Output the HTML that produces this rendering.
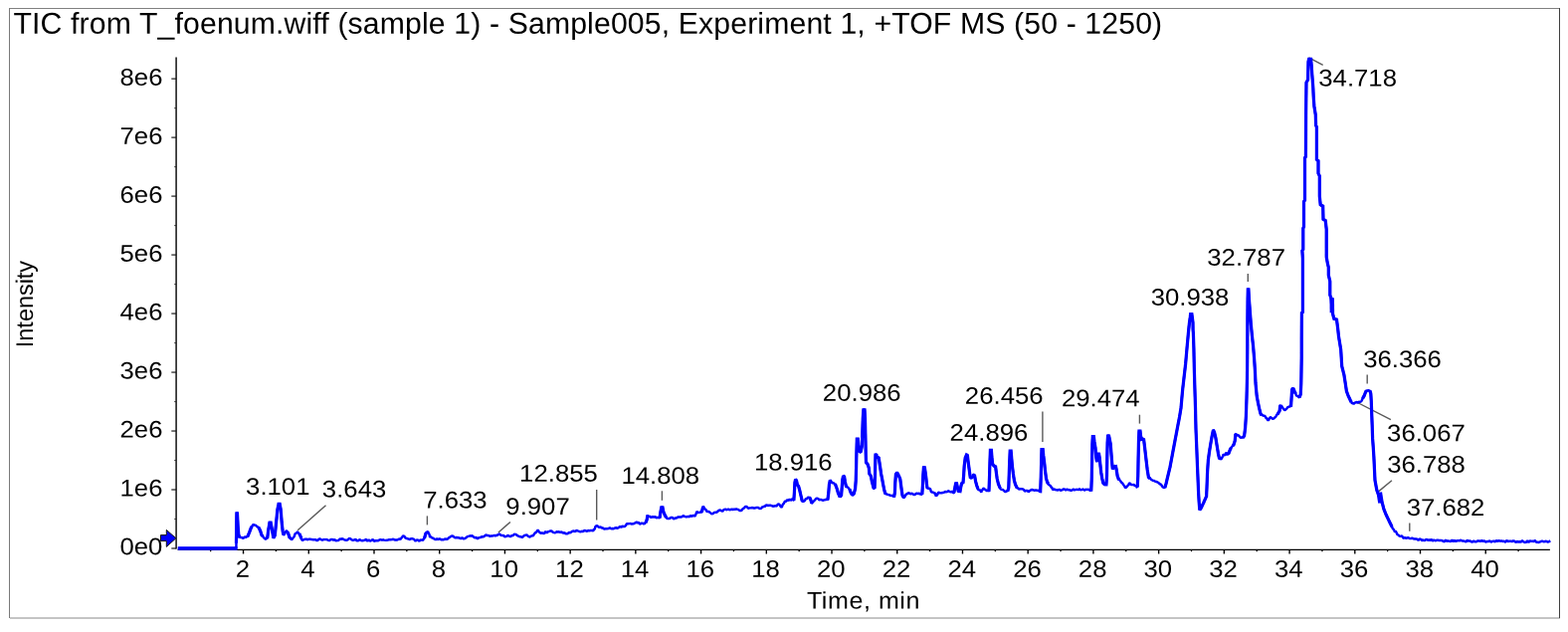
<!DOCTYPE html>
<html lang="en"><head><meta charset="utf-8"><title>TIC from T_foenum.wiff</title>
<style>html,body{margin:0;padding:0;background:#fff;overflow:hidden}svg{display:block}text{font-family:'Liberation Sans', Arial, Helvetica, sans-serif;white-space:pre}</style>
</head><body>
<svg width="1576" height="635" viewBox="0 0 1576 635" role="img" aria-label="Total ion chromatogram">
<rect x="0" y="0" width="1576" height="635" fill="#fff"/>
<g shape-rendering="crispEdges">
<rect x="9" y="8" width="1559" height="1" fill="#808080"/>
<rect x="9" y="8" width="1" height="613" fill="#7a7a7a"/>
<rect x="10" y="620" width="1558" height="2" fill="#c4c4c4"/>
<rect x="1567" y="8" width="1" height="613" fill="#404040"/>
</g>
<text transform="translate(13.47 33.65)" rotate="0.03" font-size="30.2" fill="#000" letter-spacing="0.1341">TIC from T_foenum.wiff (sample 1) - Sample005, Experiment 1, +TOF MS (50 - 1250)</text>
<g stroke="#2c2c2c" fill="none">
<line x1="177.1" y1="57.4" x2="177.1" y2="551.6" stroke-width="1.7"/>
<line x1="178.6" y1="552.4" x2="1557.9" y2="552.4" stroke-width="1.4" stroke="#000"/>
<line x1="172.3" y1="551" x2="177.1" y2="551" stroke-width="1.15" stroke="#111"/>
<line x1="172.3" y1="492.01" x2="177.1" y2="492.01" stroke-width="1.15" stroke="#111"/>
<line x1="172.3" y1="433.03" x2="177.1" y2="433.03" stroke-width="1.15" stroke="#111"/>
<line x1="172.3" y1="374.05" x2="177.1" y2="374.05" stroke-width="1.15" stroke="#111"/>
<line x1="172.3" y1="315.06" x2="177.1" y2="315.06" stroke-width="1.15" stroke="#111"/>
<line x1="172.3" y1="256.07" x2="177.1" y2="256.07" stroke-width="1.15" stroke="#111"/>
<line x1="172.3" y1="197.09" x2="177.1" y2="197.09" stroke-width="1.15" stroke="#111"/>
<line x1="172.3" y1="138.11" x2="177.1" y2="138.11" stroke-width="1.15" stroke="#111"/>
<line x1="172.3" y1="79.12" x2="177.1" y2="79.12" stroke-width="1.15" stroke="#111"/>
<line x1="175.3" y1="521.51" x2="177.1" y2="521.51" stroke-width="1.1"/>
<line x1="175.3" y1="462.52" x2="177.1" y2="462.52" stroke-width="1.1"/>
<line x1="175.3" y1="403.54" x2="177.1" y2="403.54" stroke-width="1.1"/>
<line x1="175.3" y1="344.55" x2="177.1" y2="344.55" stroke-width="1.1"/>
<line x1="175.3" y1="285.57" x2="177.1" y2="285.57" stroke-width="1.1"/>
<line x1="175.3" y1="226.58" x2="177.1" y2="226.58" stroke-width="1.1"/>
<line x1="175.3" y1="167.6" x2="177.1" y2="167.6" stroke-width="1.1"/>
<line x1="175.3" y1="108.61" x2="177.1" y2="108.61" stroke-width="1.1"/>
<line x1="211.69" y1="552.4" x2="211.69" y2="554.2" stroke-width="1.3" stroke="#000"/>
<line x1="244.55" y1="552.4" x2="244.55" y2="556.5" stroke-width="1.4" stroke="#000"/>
<line x1="277.41" y1="552.4" x2="277.41" y2="554.2" stroke-width="1.3" stroke="#000"/>
<line x1="310.27" y1="552.4" x2="310.27" y2="556.5" stroke-width="1.4" stroke="#000"/>
<line x1="343.13" y1="552.4" x2="343.13" y2="554.2" stroke-width="1.3" stroke="#000"/>
<line x1="375.99" y1="552.4" x2="375.99" y2="556.5" stroke-width="1.4" stroke="#000"/>
<line x1="408.85" y1="552.4" x2="408.85" y2="554.2" stroke-width="1.3" stroke="#000"/>
<line x1="441.71" y1="552.4" x2="441.71" y2="556.5" stroke-width="1.4" stroke="#000"/>
<line x1="474.57" y1="552.4" x2="474.57" y2="554.2" stroke-width="1.3" stroke="#000"/>
<line x1="507.43" y1="552.4" x2="507.43" y2="556.5" stroke-width="1.4" stroke="#000"/>
<line x1="540.29" y1="552.4" x2="540.29" y2="554.2" stroke-width="1.3" stroke="#000"/>
<line x1="573.15" y1="552.4" x2="573.15" y2="556.5" stroke-width="1.4" stroke="#000"/>
<line x1="606.01" y1="552.4" x2="606.01" y2="554.2" stroke-width="1.3" stroke="#000"/>
<line x1="638.87" y1="552.4" x2="638.87" y2="556.5" stroke-width="1.4" stroke="#000"/>
<line x1="671.73" y1="552.4" x2="671.73" y2="554.2" stroke-width="1.3" stroke="#000"/>
<line x1="704.59" y1="552.4" x2="704.59" y2="556.5" stroke-width="1.4" stroke="#000"/>
<line x1="737.45" y1="552.4" x2="737.45" y2="554.2" stroke-width="1.3" stroke="#000"/>
<line x1="770.31" y1="552.4" x2="770.31" y2="556.5" stroke-width="1.4" stroke="#000"/>
<line x1="803.17" y1="552.4" x2="803.17" y2="554.2" stroke-width="1.3" stroke="#000"/>
<line x1="836.03" y1="552.4" x2="836.03" y2="556.5" stroke-width="1.4" stroke="#000"/>
<line x1="868.89" y1="552.4" x2="868.89" y2="554.2" stroke-width="1.3" stroke="#000"/>
<line x1="901.75" y1="552.4" x2="901.75" y2="556.5" stroke-width="1.4" stroke="#000"/>
<line x1="934.61" y1="552.4" x2="934.61" y2="554.2" stroke-width="1.3" stroke="#000"/>
<line x1="967.47" y1="552.4" x2="967.47" y2="556.5" stroke-width="1.4" stroke="#000"/>
<line x1="1000.33" y1="552.4" x2="1000.33" y2="554.2" stroke-width="1.3" stroke="#000"/>
<line x1="1033.19" y1="552.4" x2="1033.19" y2="556.5" stroke-width="1.4" stroke="#000"/>
<line x1="1066.05" y1="552.4" x2="1066.05" y2="554.2" stroke-width="1.3" stroke="#000"/>
<line x1="1098.91" y1="552.4" x2="1098.91" y2="556.5" stroke-width="1.4" stroke="#000"/>
<line x1="1131.77" y1="552.4" x2="1131.77" y2="554.2" stroke-width="1.3" stroke="#000"/>
<line x1="1164.63" y1="552.4" x2="1164.63" y2="556.5" stroke-width="1.4" stroke="#000"/>
<line x1="1197.49" y1="552.4" x2="1197.49" y2="554.2" stroke-width="1.3" stroke="#000"/>
<line x1="1230.35" y1="552.4" x2="1230.35" y2="556.5" stroke-width="1.4" stroke="#000"/>
<line x1="1263.21" y1="552.4" x2="1263.21" y2="554.2" stroke-width="1.3" stroke="#000"/>
<line x1="1296.07" y1="552.4" x2="1296.07" y2="556.5" stroke-width="1.4" stroke="#000"/>
<line x1="1328.93" y1="552.4" x2="1328.93" y2="554.2" stroke-width="1.3" stroke="#000"/>
<line x1="1361.79" y1="552.4" x2="1361.79" y2="556.5" stroke-width="1.4" stroke="#000"/>
<line x1="1394.65" y1="552.4" x2="1394.65" y2="554.2" stroke-width="1.3" stroke="#000"/>
<line x1="1427.51" y1="552.4" x2="1427.51" y2="556.5" stroke-width="1.4" stroke="#000"/>
<line x1="1460.37" y1="552.4" x2="1460.37" y2="554.2" stroke-width="1.3" stroke="#000"/>
<line x1="1493.23" y1="552.4" x2="1493.23" y2="556.5" stroke-width="1.4" stroke="#000"/>
<line x1="1526.09" y1="552.4" x2="1526.09" y2="554.2" stroke-width="1.3" stroke="#000"/>
</g>
<text transform="translate(120.41 557.16) scale(1.072 1)" rotate="0.03" font-size="24" fill="#000">0e0</text>
<text transform="translate(120.54 498.57) scale(1.072 1)" rotate="0.03" font-size="24" fill="#000">1e6</text>
<text transform="translate(120.54 439.59) scale(1.072 1)" rotate="0.03" font-size="24" fill="#000">2e6</text>
<text transform="translate(120.54 380.6) scale(1.072 1)" rotate="0.03" font-size="24" fill="#000">3e6</text>
<text transform="translate(120.54 321.62) scale(1.072 1)" rotate="0.03" font-size="24" fill="#000">4e6</text>
<text transform="translate(120.54 262.63) scale(1.072 1)" rotate="0.03" font-size="24" fill="#000">5e6</text>
<text transform="translate(120.54 203.65) scale(1.072 1)" rotate="0.03" font-size="24" fill="#000">6e6</text>
<text transform="translate(120.54 144.66) scale(1.072 1)" rotate="0.03" font-size="24" fill="#000">7e6</text>
<text transform="translate(120.54 85.68) scale(1.072 1)" rotate="0.03" font-size="24" fill="#000">8e6</text>
<text transform="translate(236.65 579.68) scale(1.072 1)" rotate="0.03" font-size="24" fill="#000">2</text>
<text transform="translate(302.37 579.68) scale(1.072 1)" rotate="0.03" font-size="24" fill="#000">4</text>
<text transform="translate(368.09 579.68) scale(1.072 1)" rotate="0.03" font-size="24" fill="#000">6</text>
<text transform="translate(433.81 579.68) scale(1.072 1)" rotate="0.03" font-size="24" fill="#000">8</text>
<text transform="translate(492.37 579.68) scale(1.072 1)" rotate="0.03" font-size="24" fill="#000">10</text>
<text transform="translate(558.09 579.68) scale(1.072 1)" rotate="0.03" font-size="24" fill="#000">12</text>
<text transform="translate(623.81 579.68) scale(1.072 1)" rotate="0.03" font-size="24" fill="#000">14</text>
<text transform="translate(689.53 579.68) scale(1.072 1)" rotate="0.03" font-size="24" fill="#000">16</text>
<text transform="translate(755.25 579.68) scale(1.072 1)" rotate="0.03" font-size="24" fill="#000">18</text>
<text transform="translate(820.97 579.68) scale(1.072 1)" rotate="0.03" font-size="24" fill="#000">20</text>
<text transform="translate(886.69 579.68) scale(1.072 1)" rotate="0.03" font-size="24" fill="#000">22</text>
<text transform="translate(952.41 579.68) scale(1.072 1)" rotate="0.03" font-size="24" fill="#000">24</text>
<text transform="translate(1018.13 579.68) scale(1.072 1)" rotate="0.03" font-size="24" fill="#000">26</text>
<text transform="translate(1083.85 579.68) scale(1.072 1)" rotate="0.03" font-size="24" fill="#000">28</text>
<text transform="translate(1149.57 579.68) scale(1.072 1)" rotate="0.03" font-size="24" fill="#000">30</text>
<text transform="translate(1215.29 579.68) scale(1.072 1)" rotate="0.03" font-size="24" fill="#000">32</text>
<text transform="translate(1281.01 579.68) scale(1.072 1)" rotate="0.03" font-size="24" fill="#000">34</text>
<text transform="translate(1346.73 579.68) scale(1.072 1)" rotate="0.03" font-size="24" fill="#000">36</text>
<text transform="translate(1412.45 579.68) scale(1.072 1)" rotate="0.03" font-size="24" fill="#000">38</text>
<text transform="translate(1478.17 579.68) scale(1.072 1)" rotate="0.03" font-size="24" fill="#000">40</text>
<text transform="translate(810.94 611.6) scale(1.045 1)" rotate="0.03" font-size="24" fill="#000" letter-spacing="0.5139">Time, min</text>
<text transform="translate(32.9 349.17) rotate(-90) scale(0.9757 1)" rotate="0.03" font-size="24">Intensity</text>
<text transform="translate(247.09 497.11) scale(1.072 1)" rotate="0.03" font-size="24" fill="#000">3.101</text>
<text transform="translate(323.87 499.51) scale(1.072 1)" rotate="0.03" font-size="24" fill="#000">3.643</text>
<text transform="translate(425.28 510.61) scale(1.072 1)" rotate="0.03" font-size="24" fill="#000">7.633</text>
<text transform="translate(508.34 516.96) scale(1.072 1)" rotate="0.03" font-size="24" fill="#000">9.907</text>
<text transform="translate(522.12 483.81) scale(1.072 1)" rotate="0.03" font-size="24" fill="#000">12.855</text>
<text transform="translate(624.38 486.01) scale(1.072 1)" rotate="0.03" font-size="24" fill="#000">14.808</text>
<text transform="translate(757.98 472.41) scale(1.072 1)" rotate="0.03" font-size="24" fill="#000">18.916</text>
<text transform="translate(826.87 402.81) scale(1.072 1)" rotate="0.03" font-size="24" fill="#000">20.986</text>
<text transform="translate(954.62 442.66) scale(1.072 1)" rotate="0.03" font-size="24" fill="#000">24.896</text>
<text transform="translate(969.87 405.86) scale(1.072 1)" rotate="0.03" font-size="24" fill="#000">26.456</text>
<text transform="translate(1066.93 408.21) scale(1.072 1)" rotate="0.03" font-size="24" fill="#000">29.474</text>
<text transform="translate(1156.73 306.66) scale(1.072 1)" rotate="0.03" font-size="24" fill="#000">30.938</text>
<text transform="translate(1213.28 266.66) scale(1.072 1)" rotate="0.03" font-size="24" fill="#000">32.787</text>
<text transform="translate(1325.28 86.51) scale(1.072 1)" rotate="0.03" font-size="24" fill="#000">34.718</text>
<text transform="translate(1370.18 368.91) scale(1.072 1)" rotate="0.03" font-size="24" fill="#000">36.366</text>
<text transform="translate(1394.08 443.31) scale(1.072 1)" rotate="0.03" font-size="24" fill="#000">36.067</text>
<text transform="translate(1394.18 474.86) scale(1.072 1)" rotate="0.03" font-size="24" fill="#000">36.788</text>
<text transform="translate(1413.63 518.11) scale(1.072 1)" rotate="0.03" font-size="24" fill="#000">37.682</text>
<g stroke="#5a5a5a" stroke-width="1.4" fill="none">
<line x1="327.5" y1="507.7" x2="299.2" y2="532.8"/>
<line x1="429.4" y1="518.4" x2="429.4" y2="527.4"/>
<line x1="512.9" y1="524.5" x2="500.9" y2="535"/>
<line x1="599.7" y1="491.9" x2="599.7" y2="522.6"/>
<line x1="665.4" y1="493.3" x2="665.4" y2="502.8"/>
<line x1="1047.9" y1="413.4" x2="1047.9" y2="443.9"/>
<line x1="1145.4" y1="416.7" x2="1145.4" y2="425.6"/>
<line x1="1254.3" y1="274.9" x2="1254.3" y2="283.1"/>
<line x1="1315.5" y1="57.8" x2="1329.7" y2="65.4"/>
<line x1="1374.2" y1="376.5" x2="1374.2" y2="385.4"/>
<line x1="1363.5" y1="404" x2="1397.9" y2="421.6"/>
<line x1="1398.9" y1="482.8" x2="1385.8" y2="493.6"/>
<line x1="1416.8" y1="525.4" x2="1416.8" y2="533.8"/>
</g>
<path d="M178.9 551 L180.2 551 L181.5 551 L182.8 551 L184.1 551 L185.4 551 L186.7 551 L188 551 L189.3 551 L190.6 551 L191.9 551 L193.2 551 L194.5 551 L195.8 551 L197.1 551 L198.4 551 L199.7 551 L201 551 L202.3 551 L203.6 551 L204.9 551 L206.2 551 L207.5 551 L208.8 551 L210.1 551 L211.4 551 L212.7 551 L214 551 L215.3 551 L216.6 551 L217.9 551 L219.2 551 L220.5 551 L221.8 551 L223.1 551 L224.4 551 L225.7 551 L227 551 L228.3 551 L229.6 551 L230.9 551 L232.2 551 L233.5 551 L234.8 551 L236.1 551 L237.4 551 L237.42 549.7 L237.44 548.39 L237.46 547.09 L237.47 545.79 L237.49 544.48 L237.51 543.18 L237.53 541.87 L237.55 540.57 L237.57 539.27 L237.59 537.96 L237.6 536.66 L237.62 535.36 L237.64 534.05 L237.66 532.75 L237.68 531.44 L237.7 530.14 L237.71 528.84 L237.73 527.53 L237.75 526.23 L237.77 524.93 L237.79 523.62 L237.81 522.32 L237.83 521.01 L237.84 519.71 L237.86 518.41 L237.88 517.1 L237.9 515.56 L238.5 515.5 L238.57 517.16 L238.63 518.51 L238.7 519.87 L238.77 521.22 L238.83 522.58 L238.9 523.93 L238.97 525.29 L239.03 526.64 L239.1 528 L239.2 529.29 L239.3 530.57 L239.4 531.86 L239.5 533.14 L239.6 534.43 L239.7 535.71 L239.8 537 L240.17 538.1 L240.53 539.11 L240.9 539.65 L241.95 539.95 L243 540.06 L244.5 540.83 L246 539.35 L247 540.05 L248 539.19 L249 539.14 L249.45 538.23 L249.9 536.65 L250.35 535.58 L250.8 534.5 L251.2 533.42 L251.6 532.35 L252 531.28 L252.4 529.28 L253.2 529.42 L254 527.6 L254.8 527.11 L255.9 527.59 L257 527.74 L258.4 529.15 L259.8 529.86 L260.37 530.73 L260.93 531.93 L261.5 533 L261.88 534.12 L262.25 535.25 L262.62 536.38 L263 538.29 L264 538.15 L265 540.26 L265.95 540.65 L266.9 541.99 L267.85 540.98 L268.8 539.34 L268.97 538.67 L269.13 537.33 L269.3 536 L269.47 534.67 L269.63 533.33 L269.8 532 L270.04 530.64 L270.28 529.28 L270.52 527.92 L270.76 526.56 L271 524.66 L272.2 525.91 L272.45 526.65 L272.7 528.1 L272.95 529.55 L273.2 531 L273.44 532.37 L273.69 533.74 L273.93 535.11 L274.17 536.49 L274.41 537.86 L274.66 539.75 L274.9 540.67 L275.6 539.27 L276.3 538 L276.43 536.7 L276.56 535.4 L276.69 534.1 L276.82 532.8 L276.95 531.5 L277.08 530.2 L277.21 528.9 L277.34 527.6 L277.47 526.3 L277.6 525 L277.73 523.7 L277.86 522.4 L277.99 521.1 L278.12 519.8 L278.25 518.5 L278.38 517.2 L278.51 515.9 L278.64 514.6 L278.77 513.3 L278.9 512 L279.17 510.6 L279.45 509.2 L279.73 507.8 L280 507.37 L281.2 506.51 L281.45 507.8 L281.7 509.2 L281.95 510.6 L282.2 512 L282.3 513.3 L282.4 514.6 L282.5 515.9 L282.6 517.2 L282.7 518.5 L282.8 519.8 L282.9 521.1 L283 522.4 L283.1 523.7 L283.2 525 L283.34 526.29 L283.49 527.57 L283.63 528.86 L283.77 530.14 L283.91 531.43 L284.06 532.71 L284.2 534 L284.47 535.13 L284.73 535.75 L285 537.75 L285.75 536.9 L286.5 535.52 L287.3 534.02 L288.1 533.08 L288.85 534.43 L289.6 534.97 L290.07 537.2 L290.53 538.6 L291 540.26 L291.7 540.11 L292.4 541.87 L293.45 542.01 L294.5 540.54 L295.17 539.8 L295.83 538.88 L296.5 536.56 L297.33 535.87 L298.17 535.5 L299 534.09 L300 535.55 L301 536.99 L301.5 537.55 L302 538.73 L302.5 539.69 L303.13 541.78 L303.77 542.73 L304.4 542.73 L305.6 542.17 L306.8 541.71 L308 541.71 L309.33 542.25 L310.67 541.63 L312 541.75 L313.33 542.07 L314.67 542.19 L316 542.29 L317.33 542.1 L318.67 543.33 L320 542.29 L321.36 541.38 L322.73 542.15 L324.09 542.75 L325.45 542 L326.82 542.1 L328.18 542.02 L329.55 542.7 L330.91 543.17 L332.27 542.29 L333.64 541.93 L335 542.6 L336.32 542.15 L337.64 543.29 L338.95 543.11 L340.27 543 L341.59 541.48 L342.91 541.74 L344.23 541.21 L345.55 542.1 L346.86 542.53 L348.18 542.85 L349.5 542.36 L350.81 541.05 L352.12 541.14 L353.44 542.38 L354.75 542.84 L356.06 542.51 L357.38 541.86 L358.69 543.35 L360 543.24 L361.33 542.18 L362.67 542.88 L364 543.28 L365.33 543.05 L366.67 542.54 L368 541.9 L369.33 543.7 L370.67 542.44 L372 543.67 L373.33 542.97 L374.67 541.97 L376 543.76 L377.27 543.26 L378.55 543.17 L379.82 543.32 L381.09 542.67 L382.36 542.18 L383.64 542.67 L384.91 542.31 L386.18 542.61 L387.45 542.87 L388.73 542.84 L390 542.52 L391.33 542.14 L392.67 542.23 L394 541.99 L395.33 541.74 L396.67 542.43 L398 542.38 L399.33 542.54 L400.67 541.71 L402 541.49 L402.8 541.81 L403.6 540.18 L404.3 539.82 L405 538.4 L406.2 538.73 L406.85 539.42 L407.5 540.51 L408.62 540.81 L409.75 541.39 L410.88 541.56 L412 542 L413.4 541.18 L414.8 541.32 L416.2 541.9 L417.6 543.65 L419 542.5 L420.25 542.65 L421.5 543.78 L422.75 542.36 L424 542.59 L425.25 542.69 L426.5 540.3 L426.82 539.76 L427.15 538.75 L427.48 537.62 L427.8 535.72 L428.6 535.06 L429.4 534.26 L430.2 534.38 L431 536.01 L431.6 537.18 L432.2 539.99 L432.9 538.93 L433.6 540.04 L435.07 540.61 L436.53 541.52 L438 542.09 L439.26 541.4 L440.52 542.06 L441.78 541.12 L443.04 542.19 L444.3 542.05 L445.48 542.46 L446.65 541.69 L447.82 541.55 L449 541.69 L450 541.5 L451 540.34 L452 539.82 L453.5 538.76 L455 538.44 L456.33 539.46 L457.67 540.41 L459 539.97 L460.43 540.2 L461.87 540.53 L463.3 541.24 L464.48 540.33 L465.65 541.18 L466.82 541.21 L468 540.63 L469.25 539.5 L470.5 538.94 L471.5 538.63 L472.5 538.3 L473.5 538.59 L474.5 538.29 L475.75 539.31 L477 540.16 L478.5 540.03 L480 541.27 L481.33 540.15 L482.67 540.14 L484 539.31 L485.25 539.47 L486.5 538.99 L488.4 537.47 L489.7 538.1 L491 537.86 L492.17 538.87 L493.33 538.48 L494.5 538.58 L495.67 538.41 L496.83 537.88 L498 538.41 L499 537.82 L500 537.77 L501.4 536.57 L502.45 536.73 L503.5 537.81 L504.75 538 L506 537.98 L507.5 539.29 L509 538.92 L510.33 537.89 L511.67 538.6 L513 539.08 L514.27 538.32 L515.55 538.04 L516.83 536.77 L518.1 536.85 L519.55 537.68 L521 538.69 L522.3 539.23 L523.6 539.25 L524.8 540.03 L526 538.82 L527.2 538 L528.4 537.63 L529.45 537.38 L530.5 538.39 L532.2 539.63 L533.6 538.67 L535 538.33 L536 538.2 L537 536.44 L538 535.17 L538.87 534.96 L539.73 533.86 L540.6 532.48 L542 534.63 L542.8 535.05 L543.6 535.88 L544.73 535.33 L545.87 535.74 L547 535.96 L548.33 534.08 L549.67 535.52 L551 534.14 L552.1 533.86 L553.2 533.5 L554.3 533.36 L555.53 534.6 L556.77 535.06 L558 535.4 L559.25 534.32 L560.5 534.47 L561.75 534.24 L563 534.86 L564.42 534.46 L565.85 535.69 L567.28 535.2 L568.7 536.29 L569.8 536.4 L570.9 535.81 L572 534.93 L573.2 535.38 L574.4 534.28 L575.6 533.68 L576.88 533.5 L578.16 534.14 L579.44 532.94 L580.72 533.46 L582 533.92 L583.33 534.41 L584.67 533.76 L586 534.09 L587.33 533.02 L588.67 533.23 L590 533.96 L591.24 532.8 L592.48 533.43 L593.72 532.85 L594.96 533.05 L596.2 533.29 L597 532.01 L597.8 531.43 L598.3 529.36 L598.8 528.63 L600.2 528.1 L602 530 L603 529.55 L604 529.66 L605 530.66 L606 530.48 L607.33 531.57 L608.67 531.24 L610 531.32 L611.47 531.09 L612.93 530.29 L614.4 531.39 L615.6 530.96 L616.8 531.19 L618 530.42 L619.33 530.23 L620.67 530.83 L622 529.92 L623.15 528.87 L624.3 529.79 L625.45 528.58 L626.6 529 L627.73 529.04 L628.87 528.05 L630 526.1 L631.35 526.28 L632.7 526.11 L633.65 526.04 L634.6 526.44 L636.5 526.34 L637.5 525.84 L638.5 525.46 L639.75 524.57 L641 525.34 L642 524.94 L643 526.66 L644 526.11 L645 525.66 L646 525.77 L647 526.36 L648 526.09 L649 524.47 L649.4 525 L649.8 523.1 L650.2 522 L650.5 520.4 L650.8 518.47 L651.9 519.02 L653 518.83 L654.5 519.9 L656 519.22 L657.25 519.64 L658.5 518.99 L659.75 520.42 L661 519.79 L662.1 520.22 L663.2 519.87 L663.4 518.05 L663.6 516.7 L663.8 515.35 L664 514 L664.27 512.6 L664.53 511.2 L664.8 509.33 L666 510.12 L666.27 511.2 L666.53 512.6 L666.8 514 L667.4 515.5 L668 517 L668.5 518 L669 518.78 L669.5 519.29 L670.3 521.11 L671.1 520.87 L673 521.08 L674.35 520.08 L675.7 519.97 L677.13 521.39 L678.57 520.58 L680 520.54 L681.33 519.52 L682.67 519.41 L684 519.52 L685.35 519.28 L686.7 518.2 L688.05 518.9 L689.4 519.19 L690.55 519.2 L691.7 518.93 L692.85 519.26 L694 517.93 L695.5 518.86 L697 517.78 L698.5 518.83 L699.05 517.47 L699.6 516.33 L700.4 513.74 L701.7 515.13 L703 514.88 L704.2 514.29 L705.4 515.04 L705.67 513.35 L705.93 512.1 L706.2 511 L706.55 509.84 L706.9 508.52 L708 510.95 L708.6 511.62 L709.2 511.73 L710.6 514.17 L712 513.83 L713.1 514.46 L714.2 515.37 L715.3 516.22 L716.65 516.05 L718 514.88 L719.13 514.67 L720.27 514.89 L721.4 513.82 L722.7 512.79 L724 512.58 L725.17 513.27 L726.33 513.66 L727.5 512.11 L729 511.68 L730.5 512.23 L732 511.49 L733.15 512.17 L734.3 512.14 L735.45 511.48 L736.6 512.11 L737.73 511.71 L738.87 511.79 L740 511.37 L741 511.71 L742 511.88 L743.2 512.94 L744.4 513.01 L745.2 513.16 L746 511.98 L746.8 510.92 L747.6 510.75 L749.07 509.07 L750.53 509.06 L752 510.71 L753.5 510.37 L755 510.22 L756.33 510.06 L757.67 510.51 L759 510.48 L760.5 509.85 L762 509.94 L763.55 511.02 L765.1 510.89 L766.05 509.57 L767 509.38 L767.95 508.69 L768.9 508.89 L770.27 507.2 L771.63 508.1 L773 507.71 L774.27 507.61 L775.55 508.1 L776.83 508.69 L778.1 508.55 L779.3 507.99 L780.5 508.6 L781.6 506.89 L782.7 506.39 L783.55 507.13 L784.4 508.62 L785.7 509.87 L786.35 508.06 L787 506.38 L787.85 505.99 L788.7 503.83 L790.1 503.7 L791.5 502.19 L792.6 502.9 L793.7 501.54 L794.8 502.78 L796.5 501.28 L797.9 502.79 L798 500.44 L798.1 499.08 L798.2 497.72 L798.3 496.36 L798.4 495 L798.46 493.75 L798.52 492.5 L798.59 491.25 L798.65 490 L798.71 488.75 L798.77 487.5 L798.84 486.25 L798.9 485 L799.13 483.83 L799.37 482.35 L799.6 482.08 L800.5 483.34 L800.8 484.07 L801.1 485.53 L801.4 487 L802.6 488.5 L802.93 489.67 L803.27 490.83 L803.6 492 L803.88 493.2 L804.16 494.4 L804.44 495.6 L804.72 496.8 L805 498 L805.33 499.35 L805.65 500.7 L805.97 502.47 L806.3 503.86 L807.5 503.84 L808.8 503.03 L809.9 501.17 L811 501.12 L812.25 499.57 L813.5 499.88 L814.15 500.19 L814.8 502 L815.13 503.2 L815.47 504.73 L815.8 505.99 L816.65 504.84 L817.5 503.86 L818.33 503.12 L819.17 502.24 L820 501.16 L821.17 500.69 L822.33 501.15 L823.5 502.25 L824.87 501.84 L826.23 502.46 L827.6 502.7 L828.8 502.2 L830 502.08 L831 501.61 L832 501.59 L832.16 500.12 L832.32 498.84 L832.48 497.56 L832.64 496.28 L832.8 495 L832.9 493.67 L833 492.33 L833.1 491 L833.2 489.67 L833.3 488.33 L833.4 487 L833.65 485.82 L833.9 484.65 L834.15 483.16 L834.4 482.21 L835.45 483.75 L836.5 485.4 L837.4 485.32 L838.3 485.48 L839.05 486.82 L839.8 487.62 L840.27 488.47 L840.73 489.73 L841.2 491 L841.55 492.25 L841.9 493.5 L842.25 494.75 L842.6 496 L843.17 497.13 L843.73 499.22 L844.3 498.64 L844.95 498.87 L845.6 497.5 L845.7 496.25 L845.8 495 L845.9 493.75 L846 492.5 L846.1 491.25 L846.2 490 L846.3 488.67 L846.4 487.33 L846.5 486 L846.6 484.67 L846.7 483.33 L846.8 482 L847.07 480.67 L847.33 479.83 L847.6 478.41 L848.6 479.09 L848.8 480.1 L849 481.4 L849.2 482.7 L849.4 484 L849.65 485.15 L849.9 486.3 L850.15 487.45 L850.4 487.78 L851.2 489.37 L852 489.52 L852.9 490.45 L853.8 491.48 L854.27 492.01 L854.73 493.73 L855.2 495 L855.9 495.57 L856.6 497.3 L857.5 497.19 L858.4 495.87 L858.7 494.45 L859 493.3 L859.3 492.15 L859.6 491 L859.7 489.67 L859.8 488.33 L859.9 487 L860 485.67 L860.1 484.33 L860.2 483 L860.24 481.7 L860.28 480.4 L860.32 479.1 L860.36 477.8 L860.4 476.5 L860.44 475.2 L860.48 473.9 L860.52 472.6 L860.56 471.3 L860.6 470 L860.63 468.64 L860.65 467.27 L860.68 465.91 L860.71 464.55 L860.74 463.18 L860.76 461.82 L860.79 460.45 L860.82 459.09 L860.85 457.73 L860.87 456.36 L860.9 455 L860.94 453.75 L860.97 452.49 L861.01 451.24 L861.05 449.98 L861.08 448.73 L861.12 447.47 L861.15 446.22 L861.19 444.96 L861.23 443.71 L861.26 442.45 L861.3 440.89 L862.4 441.13 L862.52 442.65 L862.65 444.1 L862.77 445.55 L862.9 447 L863.04 448.24 L863.18 449.48 L863.32 450.72 L863.46 451.96 L863.6 453.69 L865.2 454.71 L865.44 452.99 L865.68 451.6 L865.92 450.4 L866.16 449.2 L866.4 448 L866.44 446.7 L866.48 445.4 L866.52 444.1 L866.56 442.8 L866.6 441.5 L866.64 440.2 L866.68 438.9 L866.72 437.6 L866.76 436.3 L866.8 435 L866.85 433.64 L866.89 432.27 L866.94 430.91 L866.98 429.55 L867.03 428.18 L867.07 426.82 L867.12 425.45 L867.16 424.09 L867.21 422.73 L867.25 421.36 L867.3 420 L867.4 418.63 L867.5 417.27 L867.6 415.9 L867.7 414.53 L867.8 413.17 L867.9 411.57 L869 411.48 L869.08 413.17 L869.17 414.53 L869.25 415.9 L869.33 417.27 L869.42 418.63 L869.5 420 L869.53 421.33 L869.55 422.67 L869.58 424 L869.61 425.33 L869.63 426.67 L869.66 428 L869.69 429.33 L869.71 430.67 L869.74 432 L869.77 433.33 L869.79 434.67 L869.82 436 L869.85 437.33 L869.87 438.67 L869.9 440 L869.92 441.33 L869.95 442.67 L869.98 444 L870 445.33 L870.02 446.67 L870.05 448 L870.08 449.33 L870.1 450.67 L870.12 452 L870.15 453.33 L870.18 454.67 L870.2 456 L870.24 457.23 L870.29 458.46 L870.33 459.69 L870.37 460.91 L870.41 462.14 L870.46 463.37 L870.5 464.6 L871.35 465.6 L872.2 467.08 L872.6 467.9 L873 469.2 L873.4 470.5 L873.5 471.88 L873.6 473.25 L873.7 474.62 L873.8 476 L874.6 477.25 L875.4 478.5 L875.65 479.88 L875.9 481.25 L876.15 482.62 L876.4 484 L876.72 485.2 L877.04 486.4 L877.36 487.6 L877.68 488.8 L878 490.34 L879 490.91 L879.06 489.45 L879.12 488.1 L879.19 486.75 L879.25 485.4 L879.31 484.05 L879.38 482.7 L879.44 481.35 L879.5 480 L879.52 478.67 L879.54 477.33 L879.57 476 L879.59 474.67 L879.61 473.33 L879.63 472 L879.66 470.67 L879.68 469.33 L879.7 468 L879.74 466.65 L879.78 465.3 L879.81 463.95 L879.85 462.6 L879.89 461.25 L879.92 459.9 L879.96 458.55 L880 456.85 L881.2 456.3 L881.5 458.25 L881.8 459.68 L883.2 459.15 L883.4 461.25 L883.6 462.5 L883.8 463.75 L884 465 L884.18 466.2 L884.36 467.4 L884.54 468.6 L884.72 469.8 L884.9 471 L885.08 472.25 L885.25 473.5 L885.42 474.75 L885.6 476 L885.85 477.25 L886.1 478.5 L886.35 479.75 L886.6 481 L886.85 482.38 L887.1 483.75 L887.35 485.12 L887.6 486.5 L887.85 487.75 L888.1 489 L888.35 490.25 L888.6 491.5 L888.93 492.87 L889.27 494.23 L889.6 495.27 L890.4 495.74 L891.2 496.65 L893 497 L894.05 497.49 L895.1 497.78 L896.05 497.95 L897 497.9 L898.5 499.04 L898.73 499.3 L898.95 497.3 L899.17 496.15 L899.4 495 L899.45 493.75 L899.5 492.5 L899.55 491.25 L899.6 490 L899.65 488.75 L899.7 487.5 L899.75 486.25 L899.8 485 L899.9 483.6 L900 482.2 L900.1 480.8 L900.2 479.4 L900.3 478 L900.4 476.6 L901 475.53 L901.6 474.25 L902.6 476.3 L903.2 477.7 L903.8 479 L904.3 480.2 L904.8 481.4 L904.95 482.55 L905.1 483.7 L905.25 484.85 L905.4 486 L905.56 487.2 L905.72 488.4 L905.88 489.6 L906.04 490.8 L906.2 492 L906.4 493.4 L906.6 494.8 L906.8 496.2 L907 497.6 L907.6 498.56 L908.2 500.42 L909.4 499.23 L910.15 497.57 L910.9 496.62 L912.2 495.84 L913.5 495.18 L915 496.4 L916.5 495.62 L917.6 496.53 L918.7 497.09 L919.8 496.76 L921.5 495.62 L923 496.21 L924 495.59 L925 496.58 L926.8 496.77 L926.89 494.61 L926.97 494.29 L927.06 493.03 L927.14 491.77 L927.23 490.51 L927.31 489.26 L927.4 488 L927.45 486.75 L927.5 485.5 L927.55 484.25 L927.6 483 L927.65 481.75 L927.7 480.5 L927.75 479.25 L927.8 478 L927.9 476.63 L928 475.27 L928.1 473.9 L928.2 472.53 L928.3 471.17 L928.4 468.82 L929.4 469.97 L929.6 471.2 L929.8 472.6 L930 474 L930.16 475.2 L930.32 476.4 L930.48 477.6 L930.64 478.8 L930.8 480 L930.92 481.2 L931.04 482.4 L931.16 483.6 L931.28 484.8 L931.4 486 L931.55 487.15 L931.7 488.3 L931.85 489.69 L932 490.44 L933.6 490.76 L935 491.27 L935.4 492.2 L935.8 494.06 L936.9 494.52 L938 494.62 L939.05 495.51 L940.1 495.48 L940.35 497.63 L940.6 498.23 L941.8 497.73 L942.3 496.87 L942.8 495.7 L943.3 494.65 L945 495.36 L946.3 495.27 L947.6 495.03 L948.73 494.9 L949.87 493.95 L951 494.25 L952.07 494.08 L953.13 493.09 L954.2 493.89 L955.4 494.27 L956.6 493.81 L957.75 494.72 L958.9 495.53 L959.12 493.05 L959.35 492.3 L959.57 491.15 L959.8 490 L960.07 488.6 L960.33 487.2 L960.6 486.77 L961.6 484.94 L961.87 487.2 L962.13 488.6 L962.4 490 L962.67 491.07 L962.93 491.15 L963.2 494.07 L965 493.83 L965.2 492.3 L965.4 491.3 L965.6 490.15 L965.8 489 L966.07 487.9 L966.33 485.86 L966.6 485.7 L968 484.8 L968.12 483.44 L968.24 482.08 L968.36 480.72 L968.48 479.36 L968.6 478 L968.68 476.75 L968.75 475.5 L968.83 474.25 L968.9 473 L968.98 471.75 L969.05 470.5 L969.12 469.25 L969.2 468 L969.37 466.67 L969.53 465.33 L969.7 464 L969.87 462.67 L970.03 461.33 L970.2 460 L970.8 458.95 L971.4 456.95 L972.4 456.77 L972.55 458.95 L972.7 460.3 L972.85 461.65 L973 463 L973.16 464.2 L973.32 465.4 L973.48 466.6 L973.64 467.8 L973.8 469 L973.96 470.2 L974.12 471.4 L974.28 472.6 L974.44 473.8 L974.6 475 L974.8 476.4 L975 477.8 L975.2 479.35 L975.4 480.47 L977 480.26 L977.53 479.34 L978.07 476.88 L978.6 476.79 L979.6 478.14 L979.85 479.4 L980.1 480.8 L980.35 482.2 L980.6 483.6 L981 485.07 L981.4 486.53 L981.8 488 L982.2 489.07 L982.6 489.93 L983 491.57 L983.8 492.42 L984.6 491.94 L986.3 494.59 L986.95 492.14 L987.6 492.21 L988.35 490.64 L989.1 490.83 L989.75 491.71 L990.4 492 L992 493.2 L993 492.44 L994 492.35 L994.05 491.52 L994.1 490.24 L994.15 488.96 L994.2 487.68 L994.25 486.4 L994.3 485.12 L994.35 483.84 L994.4 482.56 L994.45 481.28 L994.5 480 L994.54 478.73 L994.57 477.45 L994.61 476.18 L994.65 474.91 L994.68 473.64 L994.72 472.36 L994.75 471.09 L994.79 469.82 L994.83 468.55 L994.86 467.27 L994.9 466 L994.95 464.64 L995 463.28 L995.05 461.92 L995.1 460.56 L995.15 459.2 L995.2 457.84 L995.25 456.48 L995.3 455.12 L995.35 453.76 L995.4 452.6 L996.4 452.3 L996.5 453.67 L996.6 454.93 L996.7 456.2 L996.8 457.47 L996.9 458.73 L997 460 L997.14 461.28 L997.28 462.56 L997.42 463.84 L997.56 465.12 L997.7 466.4 L998.35 467.13 L999 468.37 L1000.6 469.12 L1000.76 470.04 L1000.92 471.28 L1001.08 472.52 L1001.24 473.76 L1001.4 475 L1001.56 476.2 L1001.72 477.4 L1001.88 478.6 L1002.04 479.8 L1002.2 481 L1002.5 482.25 L1002.8 483.5 L1003.1 484.75 L1003.4 486 L1003.83 487.13 L1004.27 488.27 L1004.7 488.58 L1005.55 491.16 L1006.4 491.87 L1008 492.02 L1009.25 493.23 L1010.5 494.16 L1011.65 493.38 L1012.8 493.19 L1013.13 492.57 L1013.47 491.2 L1013.8 490 L1013.84 488.67 L1013.89 487.33 L1013.93 486 L1013.98 484.67 L1014.02 483.33 L1014.07 482 L1014.11 480.67 L1014.16 479.33 L1014.2 478 L1014.25 476.73 L1014.29 475.45 L1014.34 474.18 L1014.38 472.91 L1014.43 471.64 L1014.47 470.36 L1014.52 469.09 L1014.56 467.82 L1014.61 466.55 L1014.65 465.27 L1014.7 464 L1014.76 462.65 L1014.83 461.3 L1014.89 459.95 L1014.95 458.6 L1015.01 457.25 L1015.08 455.9 L1015.14 454.55 L1015.2 452.5 L1016.2 453.91 L1016.3 454.5 L1016.4 455.8 L1016.5 457.1 L1016.6 458.4 L1016.7 459.7 L1016.8 461 L1016.92 462.27 L1017.03 463.53 L1017.15 464.8 L1017.27 466.07 L1017.38 467.33 L1017.5 468.6 L1017.65 469.83 L1017.8 471.07 L1017.95 472.3 L1018.1 473.53 L1018.25 474.77 L1018.4 476 L1018.6 477.32 L1018.8 478.64 L1019 479.96 L1019.2 481.28 L1019.4 482.6 L1019.8 484.07 L1020.2 485.53 L1020.6 487 L1021.13 488.07 L1021.67 488.45 L1022.2 490.67 L1023.13 490.07 L1024.07 491.77 L1025 491.3 L1026.45 491.12 L1027.9 491.36 L1028.95 491.98 L1030 493.62 L1031.3 492.87 L1032.6 492.86 L1033.73 494.26 L1034.87 493.15 L1036 492.44 L1037.28 491.99 L1038.55 492.37 L1039.82 492.75 L1041.1 492.4 L1042.3 492.77 L1043.5 492.62 L1044.6 493.57 L1045.7 494.21 L1045.75 492.24 L1045.8 490.88 L1045.85 489.52 L1045.9 488.16 L1045.95 486.8 L1046 485.44 L1046.05 484.08 L1046.1 482.72 L1046.15 481.36 L1046.2 480 L1046.24 478.73 L1046.27 477.45 L1046.31 476.18 L1046.35 474.91 L1046.38 473.64 L1046.42 472.36 L1046.45 471.09 L1046.49 469.82 L1046.53 468.55 L1046.56 467.27 L1046.6 466 L1046.64 464.69 L1046.67 463.38 L1046.71 462.07 L1046.75 460.76 L1046.78 459.45 L1046.82 458.15 L1046.85 456.84 L1046.89 455.53 L1046.93 454.22 L1046.96 452.91 L1047 451.77 L1048.2 451.41 L1048.32 452.88 L1048.44 454.16 L1048.56 455.44 L1048.68 456.72 L1048.8 458 L1048.96 459.2 L1049.12 460.4 L1049.28 461.6 L1049.44 462.8 L1049.6 464 L1049.73 465.33 L1049.87 466.67 L1050 468 L1050.13 469.33 L1050.27 470.67 L1050.4 472 L1050.56 473.23 L1050.71 474.46 L1050.87 475.69 L1051.03 476.91 L1051.19 478.14 L1051.34 479.37 L1051.5 480.6 L1051.87 481.87 L1052.23 483.13 L1052.6 484.4 L1053.2 485.47 L1053.8 486.8 L1055.3 487.78 L1055.95 488.27 L1056.6 489.69 L1057.35 489.79 L1058.1 492.2 L1059.4 491.53 L1060.7 491.97 L1062 492.24 L1063.33 492.55 L1064.67 491.65 L1066 492.73 L1067.33 492.43 L1068.67 491.43 L1070 491.54 L1071.25 492.69 L1072.5 491.45 L1073.75 492.23 L1075 492.2 L1076.25 492.8 L1077.5 492.46 L1078.75 491.65 L1080 492.38 L1081.25 491.86 L1082.5 491.84 L1083.75 492.05 L1085 491.39 L1086.25 492.21 L1087.5 491.89 L1088.75 491.54 L1090 492.67 L1091.36 491.6 L1092.72 491.88 L1094.08 491.66 L1095.44 492.91 L1096.8 492.24 L1096.86 490.84 L1096.91 489.49 L1096.97 488.13 L1097.02 486.78 L1097.08 485.42 L1097.13 484.07 L1097.19 482.71 L1097.24 481.36 L1097.3 480 L1097.32 478.71 L1097.34 477.43 L1097.36 476.14 L1097.39 474.86 L1097.41 473.57 L1097.43 472.29 L1097.45 471 L1097.47 469.71 L1097.49 468.43 L1097.51 467.14 L1097.54 465.86 L1097.56 464.57 L1097.58 463.29 L1097.6 462 L1097.62 460.67 L1097.65 459.33 L1097.67 458 L1097.7 456.67 L1097.72 455.33 L1097.75 454 L1097.78 452.67 L1097.8 451.33 L1097.83 450 L1097.85 448.67 L1097.88 447.33 L1097.9 446 L1097.97 444.77 L1098.03 443.53 L1098.1 442.3 L1098.17 441.07 L1098.23 439.83 L1098.3 438.27 L1099.4 438.7 L1099.55 439.95 L1099.7 441.3 L1099.85 442.65 L1100 444 L1100.2 445.2 L1100.4 446.4 L1100.6 447.6 L1100.8 448.8 L1101 450 L1101.1 451.33 L1101.2 452.67 L1101.3 454 L1101.4 455.33 L1101.5 456.67 L1101.6 458 L1101.8 459.4 L1102 460.8 L1102.2 462.2 L1102.4 464.48 L1102.65 462.2 L1102.9 460.8 L1103.15 459.4 L1103.4 458 L1103.9 456.5 L1104.4 454.86 L1104.6 456.25 L1104.8 457.5 L1105 458.75 L1105.2 460 L1105.33 461.33 L1105.47 462.67 L1105.6 464 L1105.73 465.33 L1105.87 466.67 L1106 468 L1106.16 469.4 L1106.32 470.8 L1106.48 472.2 L1106.64 473.6 L1106.8 475 L1107 476.2 L1107.2 477.4 L1107.4 478.6 L1107.6 479.8 L1107.8 481 L1108.13 482.47 L1108.47 483.93 L1108.8 485.14 L1109.6 486.55 L1110.4 487.09 L1111.9 486.63 L1111.99 485.54 L1112.07 484.29 L1112.16 483.03 L1112.24 481.77 L1112.33 480.51 L1112.41 479.26 L1112.5 478 L1112.52 476.71 L1112.54 475.43 L1112.56 474.14 L1112.59 472.86 L1112.61 471.57 L1112.63 470.29 L1112.65 469 L1112.67 467.71 L1112.69 466.43 L1112.71 465.14 L1112.74 463.86 L1112.76 462.57 L1112.78 461.29 L1112.8 460 L1112.83 458.64 L1112.85 457.27 L1112.88 455.91 L1112.91 454.55 L1112.94 453.18 L1112.96 451.82 L1112.99 450.45 L1113.02 449.09 L1113.05 447.73 L1113.07 446.36 L1113.1 445 L1113.18 443.6 L1113.26 442.2 L1113.34 440.8 L1113.42 439.4 L1113.5 437.78 L1114.6 437.5 L1114.87 439.33 L1115.13 440.67 L1115.4 442 L1115.67 443.33 L1115.93 444.67 L1116.2 446 L1116.3 447.29 L1116.4 448.57 L1116.5 449.86 L1116.6 451.14 L1116.7 452.43 L1116.8 453.71 L1116.9 455 L1117 456.29 L1117.1 457.57 L1117.2 458.86 L1117.3 460.14 L1117.4 461.43 L1117.5 462.71 L1117.6 464 L1117.72 465.23 L1117.83 466.47 L1117.95 467.7 L1118.07 468.93 L1118.18 470.17 L1118.3 471.22 L1119.05 470.19 L1119.8 469.1 L1120.5 468 L1121.2 468.1 L1121.45 467.97 L1121.7 469.6 L1121.95 470.8 L1122.2 472 L1122.38 473.2 L1122.56 474.4 L1122.74 475.6 L1122.92 476.8 L1123.1 478 L1123.65 479.5 L1124.2 481.85 L1124.95 481.58 L1125.7 482.66 L1126.47 483.73 L1127.23 484.96 L1128 485.29 L1129.1 486.94 L1130.2 488.36 L1131.1 490.16 L1132 489.62 L1132.8 488.9 L1133.6 487.68 L1134.35 487.39 L1135.1 485.08 L1136.3 486.37 L1137.5 487.07 L1138.5 487.1 L1139.5 486.83 L1140.5 487.89 L1141.85 488.45 L1143.2 489.2 L1143.27 487.96 L1143.33 486.71 L1143.4 485.47 L1143.47 484.22 L1143.53 482.98 L1143.6 481.73 L1143.67 480.49 L1143.73 479.24 L1143.8 478 L1143.82 476.71 L1143.84 475.43 L1143.86 474.14 L1143.89 472.86 L1143.91 471.57 L1143.93 470.29 L1143.95 469 L1143.97 467.71 L1143.99 466.43 L1144.01 465.14 L1144.04 463.86 L1144.06 462.57 L1144.08 461.29 L1144.1 460 L1144.13 458.71 L1144.16 457.43 L1144.19 456.14 L1144.21 454.86 L1144.24 453.57 L1144.27 452.29 L1144.3 451 L1144.33 449.71 L1144.36 448.43 L1144.39 447.14 L1144.41 445.86 L1144.44 444.57 L1144.47 443.29 L1144.5 442 L1144.56 440.74 L1144.61 439.49 L1144.67 438.23 L1144.73 436.97 L1144.79 435.71 L1144.84 434.46 L1144.9 433.45 L1146 432.78 L1146.15 434.4 L1146.3 435.6 L1146.45 436.8 L1146.6 438 L1146.8 439.13 L1147 440.31 L1147.2 441.64 L1148.4 440.94 L1149.6 441.96 L1149.76 442.88 L1149.92 444.16 L1150.08 445.44 L1150.24 446.72 L1150.4 448 L1150.56 449.4 L1150.72 450.8 L1150.88 452.2 L1151.04 453.6 L1151.2 455 L1151.35 456.3 L1151.5 457.6 L1151.65 458.9 L1151.8 460.2 L1151.95 461.5 L1152.1 462.8 L1152.26 464.11 L1152.41 465.43 L1152.57 466.74 L1152.73 468.06 L1152.89 469.37 L1153.04 470.69 L1153.2 472 L1153.4 473.23 L1153.6 474.47 L1153.8 475.7 L1154 476.93 L1154.2 478.17 L1154.4 479.4 L1155.1 480.2 L1155.8 480.22 L1157.2 482 L1158.6 482.69 L1160 482.99 L1161.17 483.76 L1162.33 483.95 L1163.5 484.55 L1164.75 485.33 L1166 486.59 L1166.87 486.5 L1167.73 488.04 L1168.6 489.31 L1169.7 489.99 L1170.8 489.84 L1171.2 489 L1171.6 487.33 L1172 486 L1172.29 484.8 L1172.57 483.6 L1172.86 482.4 L1173.14 481.2 L1173.43 480 L1173.71 478.8 L1174 477.6 L1174.29 476.41 L1174.57 475.23 L1174.86 474.04 L1175.14 472.86 L1175.43 471.67 L1175.71 470.49 L1176 469.3 L1176.24 468.04 L1176.47 466.77 L1176.71 465.51 L1176.95 464.25 L1177.18 462.98 L1177.42 461.72 L1177.65 460.45 L1177.89 459.19 L1178.13 457.93 L1178.36 456.66 L1178.6 455.4 L1178.84 454.15 L1179.07 452.89 L1179.31 451.64 L1179.55 450.38 L1179.78 449.13 L1180.02 447.87 L1180.25 446.62 L1180.49 445.36 L1180.73 444.11 L1180.96 442.85 L1181.2 441.6 L1181.44 440.31 L1181.69 439.02 L1181.93 437.73 L1182.18 436.44 L1182.42 435.16 L1182.67 433.87 L1182.91 432.58 L1183.16 431.29 L1183.4 430 L1183.63 428.78 L1183.87 427.56 L1184.1 426.33 L1184.33 425.11 L1184.57 423.89 L1184.8 422.67 L1185.03 421.44 L1185.27 420.22 L1185.5 419 L1185.71 417.71 L1185.93 416.43 L1186.14 415.14 L1186.36 413.86 L1186.57 412.57 L1186.79 411.29 L1187 410 L1187.11 408.71 L1187.23 407.43 L1187.34 406.14 L1187.46 404.86 L1187.57 403.57 L1187.69 402.29 L1187.8 401 L1187.91 399.71 L1188.03 398.43 L1188.14 397.14 L1188.26 395.86 L1188.37 394.57 L1188.49 393.29 L1188.6 392 L1188.75 390.73 L1188.89 389.45 L1189.04 388.18 L1189.18 386.91 L1189.33 385.64 L1189.47 384.36 L1189.62 383.09 L1189.76 381.82 L1189.91 380.55 L1190.05 379.27 L1190.2 378 L1190.36 376.66 L1190.51 375.31 L1190.67 373.97 L1190.82 372.62 L1190.98 371.28 L1191.13 369.93 L1191.29 368.59 L1191.44 367.24 L1191.6 365.9 L1191.72 364.57 L1191.83 363.25 L1191.95 361.92 L1192.07 360.6 L1192.18 359.27 L1192.3 357.95 L1192.42 356.62 L1192.53 355.3 L1192.65 353.98 L1192.77 352.65 L1192.88 351.32 L1193 350 L1193.12 348.73 L1193.23 347.45 L1193.35 346.18 L1193.47 344.9 L1193.58 343.62 L1193.7 342.35 L1193.82 341.07 L1193.93 339.8 L1194.05 338.52 L1194.17 337.25 L1194.28 335.97 L1194.4 334.7 L1194.55 333.1 L1194.7 331.5 L1194.83 330.25 L1194.97 329 L1195.1 327.75 L1195.23 326.5 L1195.37 325.25 L1195.5 324 L1195.7 322.62 L1195.9 321.25 L1196.1 319.88 L1196.3 318.5 L1196.45 317.1 L1196.6 315.9 L1197.9 315.57 L1198.1 317.13 L1198.3 318.57 L1198.5 320 L1198.67 321.33 L1198.83 322.67 L1199 324 L1199.02 325.25 L1199.03 326.5 L1199.05 327.75 L1199.07 329 L1199.08 330.25 L1199.1 331.5 L1199.25 333.1 L1199.4 334.7 L1199.44 335.97 L1199.48 337.25 L1199.53 338.52 L1199.57 339.8 L1199.61 341.07 L1199.65 342.35 L1199.69 343.62 L1199.73 344.9 L1199.78 346.18 L1199.82 347.45 L1199.86 348.73 L1199.9 350 L1199.93 351.29 L1199.95 352.57 L1199.98 353.86 L1200.01 355.15 L1200.03 356.43 L1200.06 357.72 L1200.09 359.01 L1200.11 360.29 L1200.14 361.58 L1200.17 362.87 L1200.19 364.15 L1200.22 365.44 L1200.25 366.73 L1200.27 368.01 L1200.3 369.3 L1200.34 370.59 L1200.38 371.89 L1200.41 373.18 L1200.45 374.48 L1200.49 375.77 L1200.53 377.06 L1200.56 378.36 L1200.6 379.65 L1200.64 380.94 L1200.67 382.24 L1200.71 383.53 L1200.75 384.82 L1200.79 386.12 L1200.83 387.41 L1200.86 388.71 L1200.9 390 L1200.94 391.28 L1200.98 392.56 L1201.02 393.84 L1201.06 395.12 L1201.1 396.4 L1201.14 397.68 L1201.18 398.96 L1201.22 400.24 L1201.26 401.52 L1201.3 402.8 L1201.34 404.08 L1201.38 405.36 L1201.42 406.64 L1201.46 407.92 L1201.5 409.2 L1201.53 410.49 L1201.56 411.79 L1201.59 413.08 L1201.62 414.38 L1201.65 415.67 L1201.68 416.96 L1201.71 418.26 L1201.74 419.55 L1201.76 420.85 L1201.79 422.14 L1201.82 423.44 L1201.85 424.73 L1201.88 426.02 L1201.91 427.32 L1201.94 428.61 L1201.97 429.91 L1202 431.2 L1202.06 432.54 L1202.11 433.89 L1202.17 435.23 L1202.23 436.57 L1202.29 437.91 L1202.34 439.26 L1202.4 440.6 L1202.46 441.94 L1202.51 443.29 L1202.57 444.63 L1202.63 445.97 L1202.69 447.31 L1202.74 448.66 L1202.8 450 L1202.85 451.33 L1202.9 452.67 L1202.95 454 L1203 455.33 L1203.05 456.67 L1203.1 458 L1203.15 459.33 L1203.2 460.67 L1203.25 462 L1203.3 463.33 L1203.35 464.67 L1203.4 466 L1203.45 467.27 L1203.51 468.55 L1203.56 469.82 L1203.62 471.09 L1203.67 472.36 L1203.73 473.64 L1203.78 474.91 L1203.84 476.18 L1203.89 477.45 L1203.95 478.73 L1204 480 L1204.05 481.36 L1204.11 482.73 L1204.16 484.09 L1204.22 485.45 L1204.27 486.82 L1204.33 488.18 L1204.38 489.55 L1204.44 490.91 L1204.49 492.27 L1204.55 493.64 L1204.6 495 L1204.67 496.25 L1204.75 497.5 L1204.83 498.75 L1204.9 500 L1204.97 501.25 L1205.05 502.5 L1205.12 503.75 L1205.2 505 L1205.3 506.23 L1205.4 507.47 L1205.5 508.7 L1205.6 509.93 L1205.7 511.17 L1205.8 512.46 L1206.4 511.8 L1207 510.3 L1207.56 510.33 L1208.12 508.48 L1208.68 507.32 L1209.24 506.16 L1209.8 505 L1210.36 503.72 L1210.92 502.44 L1211.48 501.16 L1212.04 499.88 L1212.6 498.6 L1212.66 497.37 L1212.71 496.14 L1212.77 494.91 L1212.83 493.69 L1212.89 492.46 L1212.94 491.23 L1213 490 L1213.05 488.67 L1213.1 487.33 L1213.15 486 L1213.2 484.67 L1213.25 483.33 L1213.3 482 L1213.35 480.67 L1213.4 479.33 L1213.45 478 L1213.5 476.67 L1213.55 475.33 L1213.6 474 L1213.69 472.67 L1213.78 471.33 L1213.87 470 L1213.96 468.67 L1214.04 467.33 L1214.13 466 L1214.22 464.67 L1214.31 463.33 L1214.4 462 L1214.58 460.67 L1214.77 459.33 L1214.95 458 L1215.13 456.67 L1215.32 455.33 L1215.5 454 L1215.72 452.67 L1215.93 451.33 L1216.15 450 L1216.37 448.67 L1216.58 447.33 L1216.8 446 L1217.03 444.67 L1217.27 443.33 L1217.5 442 L1217.73 440.67 L1217.97 439.33 L1218.2 438 L1218.5 436.6 L1218.8 435.2 L1219.1 433.8 L1219.4 431.61 L1220 432.53 L1220.6 434.4 L1220.92 435.77 L1221.25 437.15 L1221.58 438.52 L1221.9 439.9 L1222.12 441.25 L1222.33 442.6 L1222.55 443.95 L1222.77 445.3 L1222.98 446.65 L1223.2 448 L1223.42 449.33 L1223.63 450.67 L1223.85 452 L1224.07 453.33 L1224.28 454.67 L1224.5 456 L1224.8 457.33 L1225.1 458.67 L1225.4 460.73 L1226.8 461.2 L1227.6 461.03 L1228.4 459.69 L1229.05 458.17 L1229.7 456.4 L1231.1 457.37 L1231.75 456.88 L1232.4 454.62 L1233.5 456.84 L1234.6 456.11 L1235.12 455.76 L1235.65 453.6 L1236.17 452.3 L1236.7 450.83 L1237.55 449.75 L1238.4 448.55 L1239.25 447.9 L1240.1 445.99 L1240.47 445.4 L1240.83 444.2 L1241.2 443 L1241.32 441.8 L1241.44 440.6 L1241.56 439.4 L1241.68 438.2 L1241.8 436.08 L1242.6 436.31 L1243.8 437.62 L1245 437.27 L1246 438.91 L1247 439.84 L1248.15 439.32 L1249.3 439.8 L1249.95 438.01 L1250.6 438 L1250.77 436.67 L1250.93 435.33 L1251.1 434 L1251.27 432.67 L1251.43 431.33 L1251.6 430 L1251.69 428.67 L1251.78 427.33 L1251.87 426 L1251.96 424.67 L1252.04 423.33 L1252.13 422 L1252.22 420.67 L1252.31 419.33 L1252.4 418 L1252.44 416.71 L1252.49 415.43 L1252.53 414.14 L1252.57 412.86 L1252.61 411.57 L1252.66 410.29 L1252.7 409 L1252.74 407.71 L1252.79 406.43 L1252.83 405.14 L1252.87 403.86 L1252.91 402.57 L1252.96 401.29 L1253 400 L1253.03 398.67 L1253.07 397.33 L1253.1 396 L1253.13 394.67 L1253.17 393.33 L1253.2 392 L1253.23 390.67 L1253.27 389.33 L1253.3 388 L1253.33 386.67 L1253.37 385.33 L1253.4 384 L1253.43 382.67 L1253.47 381.33 L1253.5 380 L1253.51 378.7 L1253.53 377.39 L1253.54 376.09 L1253.55 374.78 L1253.57 373.48 L1253.58 372.17 L1253.59 370.87 L1253.6 369.57 L1253.62 368.26 L1253.63 366.96 L1253.64 365.65 L1253.66 364.35 L1253.67 363.04 L1253.68 361.74 L1253.7 360.43 L1253.71 359.13 L1253.72 357.83 L1253.73 356.52 L1253.75 355.22 L1253.76 353.91 L1253.77 352.61 L1253.79 351.3 L1253.8 350 L1253.8 348.7 L1253.81 347.39 L1253.81 346.09 L1253.82 344.78 L1253.82 343.48 L1253.83 342.17 L1253.83 340.87 L1253.83 339.57 L1253.84 338.26 L1253.84 336.96 L1253.85 335.65 L1253.85 334.35 L1253.86 333.04 L1253.86 331.74 L1253.87 330.43 L1253.87 329.13 L1253.87 327.83 L1253.88 326.52 L1253.88 325.22 L1253.89 323.91 L1253.89 322.61 L1253.9 321.3 L1253.9 320 L1253.91 318.67 L1253.93 317.33 L1253.94 316 L1253.95 314.67 L1253.97 313.33 L1253.98 312 L1253.99 310.67 L1254.01 309.33 L1254.02 308 L1254.03 306.67 L1254.05 305.33 L1254.06 304 L1254.07 302.67 L1254.09 301.33 L1254.1 300 L1254.13 298.7 L1254.16 297.4 L1254.19 296.1 L1254.21 294.8 L1254.24 293.5 L1254.27 292.2 L1254.3 290.37 L1254.9 290.57 L1254.97 292.2 L1255.04 293.5 L1255.11 294.8 L1255.19 296.1 L1255.26 297.4 L1255.33 298.7 L1255.4 300 L1255.5 301.33 L1255.6 302.67 L1255.7 304 L1255.8 305.33 L1255.9 306.67 L1256 308 L1256.1 309.33 L1256.2 310.67 L1256.3 312 L1256.4 313.33 L1256.5 314.67 L1256.6 316 L1256.7 317.33 L1256.8 318.67 L1256.9 320 L1257 321.33 L1257.1 322.67 L1257.2 324 L1257.32 325.33 L1257.44 326.67 L1257.57 328 L1257.69 329.33 L1257.81 330.67 L1257.93 332 L1258.06 333.33 L1258.18 334.67 L1258.3 336 L1258.44 337.33 L1258.59 338.67 L1258.73 340 L1258.88 341.33 L1259.02 342.67 L1259.17 344 L1259.31 345.33 L1259.46 346.67 L1259.6 348 L1259.71 349.33 L1259.82 350.67 L1259.93 352 L1260.04 353.33 L1260.16 354.67 L1260.27 356 L1260.38 357.33 L1260.49 358.67 L1260.6 360 L1260.69 361.33 L1260.78 362.67 L1260.87 364 L1260.96 365.33 L1261.04 366.67 L1261.13 368 L1261.22 369.33 L1261.31 370.67 L1261.4 372 L1261.46 373.3 L1261.52 374.6 L1261.58 375.9 L1261.64 377.2 L1261.7 378.5 L1261.76 379.8 L1261.82 381.1 L1261.88 382.4 L1261.94 383.7 L1262 385 L1262.12 386.28 L1262.24 387.56 L1262.36 388.84 L1262.48 390.12 L1262.6 391.4 L1262.72 392.68 L1262.84 393.96 L1262.96 395.24 L1263.08 396.52 L1263.2 397.8 L1263.44 399.12 L1263.68 400.44 L1263.92 401.76 L1264.16 403.08 L1264.4 404.4 L1264.66 405.6 L1264.92 406.8 L1265.18 408 L1265.44 409.2 L1265.7 410.4 L1266.03 411.7 L1266.35 413 L1266.67 414.3 L1267 415.6 L1267.5 416.1 L1268 416.41 L1269.4 417.47 L1270.8 417.68 L1271.6 418.29 L1272.4 419.85 L1273.13 420.21 L1273.87 421.55 L1274.6 422.6 L1275.3 421.68 L1276 420.06 L1276.85 419.25 L1277.7 419.56 L1279 420.76 L1280.2 420.6 L1280.97 419.76 L1281.73 419.19 L1282.5 418.32 L1283.2 416.82 L1283.9 416.43 L1284.6 415.34 L1285.4 414 L1286.2 412.6 L1286.3 411.45 L1286.4 410.3 L1286.5 409.15 L1286.6 408.2 L1287.4 407.65 L1288 407.75 L1288.6 408.68 L1289.45 410.23 L1290.3 411.07 L1291.25 412.19 L1292.2 411.47 L1293.03 410.87 L1293.87 409.73 L1294.7 408.88 L1296.15 408.6 L1297.6 406.78 L1297.69 406.23 L1297.77 404.86 L1297.86 403.49 L1297.94 402.11 L1298.03 400.74 L1298.11 399.37 L1298.2 398 L1298.28 396.7 L1298.36 395.4 L1298.44 394.1 L1298.52 392.8 L1298.6 391.5 L1299.15 390.71 L1299.7 390.73 L1300.2 390.58 L1300.7 392.2 L1301.2 393.4 L1301.77 395.35 L1302.33 395.31 L1302.9 397.37 L1303.65 397.74 L1304.4 398.11 L1306 399.51 L1306.6 397.42 L1307.2 396.5 L1307.27 395.24 L1307.33 393.99 L1307.4 392.73 L1307.47 391.48 L1307.53 390.22 L1307.6 388.97 L1307.67 387.71 L1307.73 386.46 L1307.8 385.2 L1307.82 383.87 L1307.84 382.55 L1307.86 381.22 L1307.88 379.89 L1307.91 378.57 L1307.93 377.24 L1307.95 375.92 L1307.97 374.59 L1307.99 373.26 L1308.01 371.94 L1308.03 370.61 L1308.05 369.28 L1308.07 367.96 L1308.09 366.63 L1308.12 365.31 L1308.14 363.98 L1308.16 362.65 L1308.18 361.33 L1308.2 360 L1308.2 358.67 L1308.2 357.33 L1308.2 356 L1308.2 354.67 L1308.2 353.33 L1308.2 352 L1308.2 350.67 L1308.2 349.33 L1308.2 348 L1308.2 346.67 L1308.2 345.33 L1308.2 344 L1308.2 342.67 L1308.2 341.33 L1308.2 340 L1308.21 338.66 L1308.22 337.32 L1308.23 335.97 L1308.24 334.63 L1308.25 333.29 L1308.26 331.95 L1308.27 330.61 L1308.28 329.26 L1308.29 327.92 L1308.31 326.58 L1308.32 325.24 L1308.33 323.89 L1308.34 322.55 L1308.35 321.21 L1308.36 319.87 L1308.37 318.53 L1308.38 317.18 L1308.39 315.84 L1308.4 314.5 L1309.4 313.5 L1309.4 312.2 L1309.4 310.89 L1309.4 309.59 L1309.4 308.28 L1309.4 306.98 L1309.4 305.67 L1309.4 304.37 L1309.4 303.06 L1309.4 301.76 L1309.4 300.45 L1309.4 299.15 L1309.4 297.84 L1309.4 296.54 L1309.4 295.23 L1309.4 293.93 L1309.4 292.62 L1309.4 291.32 L1309.4 290.01 L1309.4 288.71 L1309.4 287.4 L1309.4 286.1 L1309.4 284.79 L1309.4 283.49 L1309.4 282.18 L1309.4 280.88 L1309.4 279.57 L1309.4 278.27 L1309.4 276.96 L1309.4 275.66 L1309.4 274.35 L1309.4 273.05 L1309.4 271.74 L1309.4 270.44 L1309.4 269.13 L1309.4 267.83 L1309.4 266.52 L1309.4 265.22 L1309.4 263.91 L1309.4 262.61 L1309.4 261.3 L1309.4 260 L1309.32 258.67 L1309.23 257.33 L1309.15 256 L1309.07 254.67 L1308.98 253.33 L1308.9 252 L1309.8 250.5 L1309.8 249.18 L1309.8 247.86 L1309.8 246.54 L1309.8 245.22 L1309.8 243.91 L1309.8 242.59 L1309.8 241.27 L1309.8 239.95 L1309.8 238.63 L1309.8 237.31 L1309.8 235.99 L1309.8 234.68 L1309.8 233.36 L1309.8 232.04 L1309.8 230.72 L1309.8 229.4 L1310.5 227.8 L1310.5 226.47 L1310.5 225.15 L1310.5 223.82 L1310.5 222.49 L1310.5 221.17 L1310.5 219.84 L1310.5 218.52 L1310.5 217.19 L1310.5 215.86 L1310.5 214.54 L1310.5 213.21 L1310.5 211.88 L1310.5 210.56 L1310.5 209.23 L1310.5 207.91 L1310.5 206.58 L1310.5 205.25 L1310.5 203.93 L1310.5 202.6 L1311.5 201.3 L1311.5 200.01 L1311.5 198.71 L1311.5 197.42 L1311.5 196.12 L1311.5 194.83 L1311.5 193.54 L1311.5 192.24 L1311.5 190.95 L1311.5 189.65 L1311.5 188.36 L1311.5 187.07 L1311.5 185.77 L1311.5 184.48 L1311.5 183.18 L1311.5 181.89 L1311.5 180.6 L1311.5 179.3 L1311.5 178.01 L1311.5 176.72 L1311.5 175.42 L1311.5 174.13 L1311.5 172.83 L1311.5 171.54 L1311.5 170.25 L1311.5 168.95 L1311.5 167.66 L1311.5 166.36 L1311.5 165.07 L1311.5 163.78 L1311.5 162.48 L1311.5 161.19 L1311.5 159.89 L1311.5 158.6 L1312.4 157.4 L1312.41 156.09 L1312.41 154.78 L1312.42 153.47 L1312.43 152.16 L1312.43 150.85 L1312.44 149.54 L1312.44 148.23 L1312.45 146.93 L1312.46 145.62 L1312.46 144.31 L1312.47 143 L1312.47 141.69 L1312.48 140.38 L1312.49 139.07 L1312.49 137.76 L1312.5 136.45 L1312.51 135.14 L1312.51 133.83 L1312.52 132.52 L1312.53 131.21 L1312.53 129.9 L1312.54 128.59 L1312.54 127.28 L1312.55 125.97 L1312.56 124.67 L1312.56 123.36 L1312.57 122.05 L1312.57 120.74 L1312.58 119.43 L1312.59 118.12 L1312.59 116.81 L1312.6 115.5 L1312.62 114.2 L1312.63 112.9 L1312.65 111.6 L1312.66 110.3 L1312.68 109 L1312.7 107.7 L1312.71 106.4 L1312.73 105.1 L1312.74 103.8 L1312.76 102.5 L1312.78 101.2 L1312.79 99.9 L1312.81 98.6 L1312.82 97.3 L1312.84 96 L1312.86 94.7 L1312.87 93.4 L1312.89 92.1 L1312.9 90.8 L1312.92 89.5 L1312.94 88.2 L1312.95 86.9 L1312.97 85.6 L1312.98 84.3 L1313 83 L1313.53 82 L1314.07 81 L1314.6 80 L1314.63 78.71 L1314.66 77.43 L1314.69 76.14 L1314.71 74.86 L1314.74 73.57 L1314.77 72.29 L1314.8 71 L1314.83 69.71 L1314.86 68.43 L1314.89 67.14 L1314.91 65.86 L1314.94 64.57 L1314.97 63.29 L1315 62 L1315.3 60.7 L1315.6 59.87 L1316.6 59.52 L1317.6 59.19 L1317.72 60.72 L1317.84 62.04 L1317.96 63.36 L1318.08 64.68 L1318.2 66 L1318.29 67.31 L1318.37 68.63 L1318.46 69.94 L1318.54 71.26 L1318.63 72.57 L1318.71 73.89 L1318.8 75.2 L1318.9 76.46 L1319 77.72 L1319.1 78.98 L1319.2 80.24 L1319.3 81.5 L1319.4 82.76 L1319.5 84.02 L1319.6 85.28 L1319.7 86.54 L1319.8 87.8 L1319.86 89.11 L1319.91 90.43 L1319.97 91.74 L1320.03 93.06 L1320.09 94.37 L1320.14 95.69 L1320.2 97 L1320.3 98.39 L1320.4 99.77 L1320.5 101.16 L1320.6 102.54 L1320.7 103.93 L1320.8 105.31 L1320.9 106.7 L1321.1 107.96 L1321.3 109.21 L1321.5 110.47 L1321.7 111.73 L1321.9 112.99 L1322.1 114.24 L1322.3 115.5 L1322.34 116.81 L1322.38 118.12 L1322.41 119.44 L1322.45 120.75 L1322.49 122.06 L1322.52 123.38 L1322.56 124.69 L1322.6 126 L1323.4 127.6 L1323.4 128.91 L1323.4 130.22 L1323.4 131.52 L1323.4 132.83 L1323.4 134.14 L1323.4 135.45 L1323.4 136.76 L1323.4 138.06 L1323.4 139.37 L1323.4 140.68 L1323.4 141.99 L1323.4 143.3 L1323.4 144.6 L1323.4 145.91 L1323.4 147.22 L1323.4 148.53 L1323.4 149.84 L1323.4 151.14 L1323.4 152.45 L1323.4 153.76 L1323.4 155.07 L1323.4 156.38 L1323.4 157.68 L1323.4 158.99 L1323.4 160.3 L1324.2 160.95 L1325 161.6 L1325 162.86 L1325 164.12 L1325 165.38 L1325 166.64 L1325 167.9 L1325 169.16 L1325 170.42 L1325 171.68 L1325 172.94 L1325 174.2 L1325.65 175.45 L1326.3 176.7 L1326.3 178.05 L1326.3 179.41 L1326.3 180.76 L1326.3 182.11 L1326.3 183.47 L1326.3 184.82 L1326.3 186.17 L1326.3 187.53 L1326.3 188.88 L1326.3 190.23 L1326.3 191.59 L1326.3 192.94 L1326.3 194.29 L1326.3 195.65 L1326.3 197 L1326.43 198.24 L1326.56 199.49 L1326.69 200.73 L1326.81 201.97 L1326.94 203.21 L1327.07 204.46 L1327.2 205.88 L1328.45 206.98 L1329.7 206.56 L1329.73 208.32 L1329.76 209.64 L1329.79 210.96 L1329.82 212.28 L1329.85 213.6 L1329.88 214.92 L1329.91 216.24 L1329.94 217.56 L1329.97 218.88 L1330 220.67 L1331.1 221.13 L1332.2 222.17 L1332.34 222.76 L1332.49 224.01 L1332.63 225.27 L1332.77 226.53 L1332.91 227.79 L1333.06 229.04 L1333.2 230.3 L1333.2 231.62 L1333.2 232.94 L1333.2 234.26 L1333.2 235.58 L1333.2 236.9 L1333.2 238.21 L1333.2 239.53 L1333.2 240.85 L1333.2 242.17 L1333.2 243.49 L1333.2 244.81 L1333.2 246.13 L1333.2 247.45 L1333.2 248.77 L1333.2 250.09 L1333.2 251.4 L1333.2 252.72 L1333.2 254.04 L1333.2 255.36 L1333.2 256.68 L1333.2 258 L1333.44 259.4 L1333.68 260.8 L1333.92 262.2 L1334.16 263.6 L1334.4 265 L1334.7 266.17 L1335 267.33 L1335.3 268.5 L1335.3 269.82 L1335.3 271.13 L1335.3 272.45 L1335.3 273.77 L1335.3 275.08 L1335.3 276.4 L1335.6 277.66 L1335.9 278.92 L1336.2 280.18 L1336.5 281.44 L1336.8 282.7 L1336.8 283.95 L1336.8 285.21 L1336.8 286.46 L1336.8 287.72 L1336.8 288.97 L1336.8 290.23 L1336.8 291.48 L1336.8 292.74 L1336.8 293.99 L1336.8 295.25 L1336.8 296.5 L1337.2 297.53 L1337.6 298.57 L1338 299.6 L1338.13 300.83 L1338.27 302.07 L1338.4 303.3 L1338.53 304.53 L1338.67 305.77 L1338.8 307 L1338.91 308.21 L1339.03 309.43 L1339.14 310.64 L1339.26 311.86 L1339.37 313.07 L1339.49 314.29 L1339.6 315.5 L1339.92 316.75 L1340.25 318 L1340.58 319.31 L1340.9 319.63 L1342.2 320.29 L1343.5 321.15 L1343.67 322.44 L1343.84 323.79 L1344.01 325.13 L1344.19 326.47 L1344.36 327.81 L1344.53 329.16 L1344.7 330.5 L1344.83 331.75 L1344.97 333 L1345.1 334.25 L1345.23 335.5 L1345.37 336.75 L1345.5 338 L1345.72 339.34 L1345.94 340.68 L1346.16 342.02 L1346.38 343.36 L1346.6 344.7 L1346.82 346.04 L1347.04 347.38 L1347.26 348.72 L1347.48 350.06 L1347.7 351.4 L1347.78 352.66 L1347.85 353.92 L1347.93 355.18 L1348.01 356.45 L1348.08 357.71 L1348.16 358.97 L1348.24 360.23 L1348.32 361.49 L1348.39 362.75 L1348.47 364.02 L1348.55 365.28 L1348.62 366.54 L1348.7 367.8 L1349.01 369.06 L1349.33 370.31 L1349.64 371.57 L1349.96 372.83 L1350.27 374.09 L1350.59 375.34 L1350.9 376.6 L1351.12 378 L1351.33 379.4 L1351.55 380.8 L1351.77 382.2 L1351.98 383.6 L1352.2 385 L1352.4 386.33 L1352.6 387.67 L1352.8 389 L1353 390.33 L1353.2 391.67 L1353.4 393 L1353.8 394.1 L1354.2 395.2 L1354.6 396.3 L1355 397.4 L1355.5 398.43 L1356 399.47 L1356.5 400.5 L1357 401.67 L1357.5 402.85 L1358 403.03 L1358.85 405.42 L1359.7 405.14 L1360.65 405.76 L1361.6 404.89 L1362.55 404.31 L1363.5 403.99 L1364.6 404.8 L1365.7 403.83 L1366.8 403.9 L1367.9 403.44 L1368.75 402.48 L1369.6 400.08 L1370.3 398.32 L1371 398 L1371.43 396.87 L1371.87 395.73 L1372.3 394.6 L1372.9 392.53 L1373.5 392.66 L1375.2 392.31 L1376.9 392.75 L1377.2 393.39 L1377.5 394.53 L1377.8 395.6 L1377.88 396.92 L1377.97 398.23 L1378.05 399.55 L1378.13 400.87 L1378.22 402.18 L1378.3 403.5 L1378.34 404.8 L1378.39 406.1 L1378.43 407.4 L1378.48 408.7 L1378.52 410 L1378.57 411.3 L1378.61 412.6 L1378.66 413.9 L1378.7 415.2 L1378.75 416.48 L1378.8 417.76 L1378.85 419.04 L1378.9 420.32 L1378.95 421.6 L1379 422.88 L1379.05 424.16 L1379.1 425.44 L1379.15 426.72 L1379.2 428 L1379.24 429.38 L1379.29 430.76 L1379.33 432.13 L1379.38 433.51 L1379.42 434.89 L1379.47 436.27 L1379.51 437.64 L1379.56 439.02 L1379.6 440.4 L1379.7 441.77 L1379.8 443.14 L1379.9 444.51 L1380 445.89 L1380.1 447.26 L1380.2 448.63 L1380.3 450 L1380.39 451.33 L1380.47 452.66 L1380.56 453.99 L1380.64 455.31 L1380.73 456.64 L1380.81 457.97 L1380.9 459.3 L1380.96 460.64 L1381.03 461.98 L1381.09 463.31 L1381.15 464.65 L1381.21 465.99 L1381.28 467.32 L1381.34 468.66 L1381.4 470 L1381.46 471.26 L1381.52 472.52 L1381.58 473.78 L1381.64 475.04 L1381.7 476.3 L1381.76 477.56 L1381.82 478.82 L1381.88 480.08 L1381.94 481.34 L1382 482.6 L1382.25 483.95 L1382.5 485.3 L1382.75 486.65 L1383 488 L1383.22 489.18 L1383.45 490.35 L1383.68 491.52 L1383.9 492.7 L1384.6 494.4 L1385.1 495.7 L1385.6 497 L1386.07 498 L1386.53 499 L1387 500 L1387.47 501.17 L1387.93 502.33 L1388.4 503.5 L1389 504.95 L1389.6 506.4 L1389.92 507.7 L1390.25 509 L1390.58 510.3 L1390.9 511.6 L1391.43 512.9 L1391.95 514.2 L1392.47 515.5 L1393 516.8 L1393.58 518 L1394.15 519.2 L1394.72 520.4 L1395.3 521.6 L1395.92 522.9 L1396.55 524.2 L1397.17 525.5 L1397.8 526.8 L1398.42 527.69 L1399.05 529.3 L1399.67 530.79 L1400.3 531.63 L1401.13 532.43 L1401.97 534.63 L1402.8 533.62 L1403.63 535.3 L1404.47 537.14 L1405.3 537.34 L1406.55 538.6 L1407.8 538.94 L1409.1 538.3 L1410.4 540.76 L1411.95 540.06 L1413.5 540.78 L1415.1 540.12 L1416.7 540.94 L1418.03 541.12 L1419.35 540.6 L1420.67 541.31 L1422 541.59 L1423.2 541.54 L1424.4 541.65 L1425.6 543.03 L1426.8 541.51 L1428 541.95 L1429.2 543.14 L1430.4 542.39 L1431.6 543.24 L1432.8 542.45 L1434 541.83 L1435.2 542.88 L1436.4 542.48 L1437.6 542.86 L1438.8 542.14 L1440 543.54 L1441.3 542.38 L1442.6 543.36 L1443.9 542.8 L1445.2 542.78 L1446.5 542.99 L1447.8 543.08 L1449.1 543.06 L1450.4 543.65 L1451.7 544.3 L1453 542.58 L1454.3 543.77 L1455.6 543.32 L1456.9 543.82 L1458.17 544.06 L1459.45 542.52 L1460.72 544.21 L1461.99 542.85 L1463.27 544.02 L1464.54 543.33 L1465.81 543.13 L1467.09 543.39 L1468.36 542.68 L1469.63 543.63 L1470.91 543.44 L1472.18 543.81 L1473.45 544.39 L1474.73 542.73 L1476 543.64 L1477.33 543.4 L1478.67 544.26 L1480 544.64 L1481.33 543.41 L1482.67 544.39 L1484 544.26 L1485.33 543.35 L1486.67 543.55 L1488 543.87 L1489.33 543.17 L1490.67 543.83 L1492 543.33 L1493.33 544.76 L1494.67 544 L1496 544.04 L1497.33 543.48 L1498.67 544.54 L1500 543.92 L1501.3 543.57 L1502.61 544.37 L1503.91 542.98 L1505.22 544.14 L1506.52 542.98 L1507.83 543.71 L1509.13 543.35 L1510.43 543.95 L1511.74 543.66 L1513.04 544.75 L1514.35 543.03 L1515.65 543.95 L1516.96 543.69 L1518.26 543.71 L1519.57 544.22 L1520.87 543.37 L1522.17 543.74 L1523.48 544.94 L1524.78 543.93 L1526.09 544.66 L1527.39 544.3 L1528.7 544.54 L1530 543.23 L1531.29 544.34 L1532.57 544.94 L1533.86 544.9 L1535.15 543.36 L1536.43 544.96 L1537.72 543.29 L1539 543.91 L1540.29 543.7 L1541.58 544 L1542.86 543.09 L1544.15 544.85 L1545.44 544.75 L1546.72 544.92 L1548.01 544.33 L1549.3 543.84 L1550.58 543.84 L1551.87 544.3 L1553.15 543.83 L1554.44 543.95 L1555.73 544.51 L1557.01 544.1 L1558.3 543.41" fill="none" stroke="#0000ff" stroke-width="2.45" stroke-linejoin="bevel" stroke-linecap="butt"/>
<path d="M237.47 545.79 L237.49 544.48 L237.51 543.18 L237.53 541.87 L237.55 540.57 L237.57 539.27 L237.59 537.96 L237.6 536.66 L237.62 535.36 L237.64 534.05 L237.66 532.75 L237.68 531.44 L237.7 530.14 L237.71 528.84 L237.73 527.53 L237.75 526.23 L237.77 524.93 L237.79 523.62 L237.81 522.32 L237.83 521.01 L237.84 519.71 L237.86 518.41 L237.88 517.1 L237.9 515.8 L238.5 515.8 L238.57 517.16 L238.63 518.51 L238.7 519.87 L238.77 521.22 L238.83 522.58 L238.9 523.93 L238.97 525.29 L239.03 526.64 L239.1 528 L239.2 529.29 L239.3 530.57 L239.4 531.86 L239.5 533.14 L239.6 534.43 L239.7 535.71 L239.8 537 L240.17 538.1 L240.53 539.2 L240.9 540.3 M249 538.8 L249.45 537.72 L249.9 536.65 L250.35 535.58 L250.8 534.5 L251.2 533.42 L251.6 532.35 L252 531.28 L252.4 530.2 L253.2 529.2 M259.8 529.8 L260.37 530.87 L260.93 531.93 L261.5 533 L261.88 534.12 L262.25 535.25 L262.62 536.38 L263 537.5 L264 538.75 M267.85 540.8 L268.8 540 L268.97 538.67 L269.13 537.33 L269.3 536 L269.47 534.67 L269.63 533.33 L269.8 532 L270.04 530.64 L270.28 529.28 L270.52 527.92 L270.76 526.56 L271 525.2 L272.2 525.2 L272.45 526.65 L272.7 528.1 L272.95 529.55 L273.2 531 L273.44 532.37 L273.69 533.74 L273.93 535.11 L274.17 536.49 L274.41 537.86 L274.66 539.23 L274.9 540.6 L275.6 539.3 L276.3 538 L276.43 536.7 L276.56 535.4 L276.69 534.1 L276.82 532.8 L276.95 531.5 L277.08 530.2 L277.21 528.9 L277.34 527.6 L277.47 526.3 L277.6 525 L277.73 523.7 L277.86 522.4 L277.99 521.1 L278.12 519.8 L278.25 518.5 L278.38 517.2 L278.51 515.9 L278.64 514.6 L278.77 513.3 L278.9 512 L279.17 510.6 L279.45 509.2 L279.73 507.8 L280 506.4 L281.2 506.4 L281.45 507.8 L281.7 509.2 L281.95 510.6 L282.2 512 L282.3 513.3 L282.4 514.6 L282.5 515.9 L282.6 517.2 L282.7 518.5 L282.8 519.8 L282.9 521.1 L283 522.4 L283.1 523.7 L283.2 525 L283.34 526.29 L283.49 527.57 L283.63 528.86 L283.77 530.14 L283.91 531.43 L284.06 532.71 L284.2 534 L284.47 535.13 L284.73 536.27 L285 537.4 M288.85 534.9 L289.6 535.8 L290.07 537.2 L290.53 538.6 L291 540 L291.7 540.8 M301 536.2 L301.5 537.47 L302 538.73 L302.5 540 L303.13 540.93 M426.5 541 L426.82 539.88 L427.15 538.75 L427.48 537.62 L427.8 536.5 L428.6 535.4 M649 525.3 L649.4 524.2 L649.8 523.1 L650.2 522 L650.5 520.4 L650.8 518.8 L651.9 518.9 M662.1 519.7 L663.2 519.4 L663.4 518.05 L663.6 516.7 L663.8 515.35 L664 514 L664.27 512.6 L664.53 511.2 L664.8 509.8 L666 509.8 L666.27 511.2 L666.53 512.6 L666.8 514 L667.4 515.5 L668 517 L668.5 518 L669 519 L669.5 520 M705.4 514.3 L705.67 513.2 L705.93 512.1 L706.2 511 L706.55 510 L706.9 509 M796.5 502.2 L797.9 501.8 L798 500.44 L798.1 499.08 L798.2 497.72 L798.3 496.36 L798.4 495 L798.46 493.75 L798.52 492.5 L798.59 491.25 L798.65 490 L798.71 488.75 L798.77 487.5 L798.84 486.25 L798.9 485 L799.13 483.83 L799.37 482.67 L799.6 481.5 L800.5 482.6 L800.8 484.07 L801.1 485.53 L801.4 487 L802.6 488.5 L802.93 489.67 L803.27 490.83 L803.6 492 L803.88 493.2 L804.16 494.4 L804.44 495.6 L804.72 496.8 L805 498 L805.33 499.35 L805.65 500.7 L805.97 502.05 L806.3 503.4 M813.5 499.6 L814.15 500.8 L814.8 502 L815.13 503.2 L815.47 504.4 L815.8 505.6 M831 501.9 L832 501.4 L832.16 500.12 L832.32 498.84 L832.48 497.56 L832.64 496.28 L832.8 495 L832.9 493.67 L833 492.33 L833.1 491 L833.2 489.67 L833.3 488.33 L833.4 487 L833.65 485.82 L833.9 484.65 L834.15 483.48 L834.4 482.3 M839.05 486.5 L839.8 487.2 L840.27 488.47 L840.73 489.73 L841.2 491 L841.55 492.25 L841.9 493.5 L842.25 494.75 L842.6 496 L843.17 497.13 L843.73 498.27 L844.3 499.4 L844.95 498.45 L845.6 497.5 L845.7 496.25 L845.8 495 L845.9 493.75 L846 492.5 L846.1 491.25 L846.2 490 L846.3 488.67 L846.4 487.33 L846.5 486 L846.6 484.67 L846.7 483.33 L846.8 482 L847.07 480.67 L847.33 479.33 L847.6 478 L848.6 478.8 L848.8 480.1 L849 481.4 L849.2 482.7 L849.4 484 L849.65 485.15 L849.9 486.3 L850.15 487.45 L850.4 488.6 L851.2 489.5 M853.8 491.2 L854.27 492.47 L854.73 493.73 L855.2 495 L855.9 496.2 L856.6 497.4 L857.5 496.5 L858.4 495.6 L858.7 494.45 L859 493.3 L859.3 492.15 L859.6 491 L859.7 489.67 L859.8 488.33 L859.9 487 L860 485.67 L860.1 484.33 L860.2 483 L860.24 481.7 L860.28 480.4 L860.32 479.1 L860.36 477.8 L860.4 476.5 L860.44 475.2 L860.48 473.9 L860.52 472.6 L860.56 471.3 L860.6 470 L860.63 468.64 L860.65 467.27 L860.68 465.91 L860.71 464.55 L860.74 463.18 L860.76 461.82 L860.79 460.45 L860.82 459.09 L860.85 457.73 L860.87 456.36 L860.9 455 L860.94 453.75 L860.97 452.49 L861.01 451.24 L861.05 449.98 L861.08 448.73 L861.12 447.47 L861.15 446.22 L861.19 444.96 L861.23 443.71 L861.26 442.45 L861.3 441.2 L862.4 441.2 L862.52 442.65 L862.65 444.1 L862.77 445.55 L862.9 447 L863.04 448.24 L863.18 449.48 L863.32 450.72 L863.46 451.96 L863.6 453.2 L865.2 454 L865.44 452.8 L865.68 451.6 L865.92 450.4 L866.16 449.2 L866.4 448 L866.44 446.7 L866.48 445.4 L866.52 444.1 L866.56 442.8 L866.6 441.5 L866.64 440.2 L866.68 438.9 L866.72 437.6 L866.76 436.3 L866.8 435 L866.85 433.64 L866.89 432.27 L866.94 430.91 L866.98 429.55 L867.03 428.18 L867.07 426.82 L867.12 425.45 L867.16 424.09 L867.21 422.73 L867.25 421.36 L867.3 420 L867.4 418.63 L867.5 417.27 L867.6 415.9 L867.7 414.53 L867.8 413.17 L867.9 411.8 L869 411.8 L869.08 413.17 L869.17 414.53 L869.25 415.9 L869.33 417.27 L869.42 418.63 L869.5 420 L869.53 421.33 L869.55 422.67 L869.58 424 L869.61 425.33 L869.63 426.67 L869.66 428 L869.69 429.33 L869.71 430.67 L869.74 432 L869.77 433.33 L869.79 434.67 L869.82 436 L869.85 437.33 L869.87 438.67 L869.9 440 L869.92 441.33 L869.95 442.67 L869.98 444 L870 445.33 L870.02 446.67 L870.05 448 L870.08 449.33 L870.1 450.67 L870.12 452 L870.15 453.33 L870.18 454.67 L870.2 456 L870.24 457.23 L870.29 458.46 L870.33 459.69 L870.37 460.91 L870.41 462.14 L870.46 463.37 L870.5 464.6 L871.35 465.6 L872.2 466.6 L872.6 467.9 L873 469.2 L873.4 470.5 L873.5 471.88 L873.6 473.25 L873.7 474.62 L873.8 476 L874.6 477.25 L875.4 478.5 L875.65 479.88 L875.9 481.25 L876.15 482.62 L876.4 484 L876.72 485.2 L877.04 486.4 L877.36 487.6 L877.68 488.8 L878 490 L879 490.8 L879.06 489.45 L879.12 488.1 L879.19 486.75 L879.25 485.4 L879.31 484.05 L879.38 482.7 L879.44 481.35 L879.5 480 L879.52 478.67 L879.54 477.33 L879.57 476 L879.59 474.67 L879.61 473.33 L879.63 472 L879.66 470.67 L879.68 469.33 L879.7 468 L879.74 466.65 L879.78 465.3 L879.81 463.95 L879.85 462.6 L879.89 461.25 L879.92 459.9 L879.96 458.55 L880 457.2 L881.2 457.2 M881.8 459.4 L883.2 460 L883.4 461.25 L883.6 462.5 L883.8 463.75 L884 465 L884.18 466.2 L884.36 467.4 L884.54 468.6 L884.72 469.8 L884.9 471 L885.08 472.25 L885.25 473.5 L885.42 474.75 L885.6 476 L885.85 477.25 L886.1 478.5 L886.35 479.75 L886.6 481 L886.85 482.38 L887.1 483.75 L887.35 485.12 L887.6 486.5 L887.85 487.75 L888.1 489 L888.35 490.25 L888.6 491.5 L888.93 492.87 L889.27 494.23 L889.6 495.6 L890.4 496.5 M898.5 499.6 L898.73 498.45 L898.95 497.3 L899.17 496.15 L899.4 495 L899.45 493.75 L899.5 492.5 L899.55 491.25 L899.6 490 L899.65 488.75 L899.7 487.5 L899.75 486.25 L899.8 485 L899.9 483.6 L900 482.2 L900.1 480.8 L900.2 479.4 L900.3 478 L900.4 476.6 L901 475.7 L901.6 474.8 L902.6 476.4 L903.2 477.7 L903.8 479 L904.3 480.2 L904.8 481.4 L904.95 482.55 L905.1 483.7 L905.25 484.85 L905.4 486 L905.56 487.2 L905.72 488.4 L905.88 489.6 L906.04 490.8 L906.2 492 L906.4 493.4 L906.6 494.8 L906.8 496.2 L907 497.6 L907.6 498.6 L908.2 499.6 M926.8 496.8 L926.89 495.54 L926.97 494.29 L927.06 493.03 L927.14 491.77 L927.23 490.51 L927.31 489.26 L927.4 488 L927.45 486.75 L927.5 485.5 L927.55 484.25 L927.6 483 L927.65 481.75 L927.7 480.5 L927.75 479.25 L927.8 478 L927.9 476.63 L928 475.27 L928.1 473.9 L928.2 472.53 L928.3 471.17 L928.4 469.8 L929.4 469.8 L929.6 471.2 L929.8 472.6 L930 474 L930.16 475.2 L930.32 476.4 L930.48 477.6 L930.64 478.8 L930.8 480 L930.92 481.2 L931.04 482.4 L931.16 483.6 L931.28 484.8 L931.4 486 L931.55 487.15 L931.7 488.3 L931.85 489.45 L932 490.6 M958.9 494.6 L959.12 493.45 L959.35 492.3 L959.57 491.15 L959.8 490 L960.07 488.6 L960.33 487.2 L960.6 485.8 L961.6 485.8 L961.87 487.2 L962.13 488.6 L962.4 490 L962.67 491.07 L962.93 492.13 L963.2 493.2 L965 493.6 L965.2 492.45 L965.4 491.3 L965.6 490.15 L965.8 489 L966.07 487.9 L966.33 486.8 L966.6 485.7 L968 484.8 L968.12 483.44 L968.24 482.08 L968.36 480.72 L968.48 479.36 L968.6 478 L968.68 476.75 L968.75 475.5 L968.83 474.25 L968.9 473 L968.98 471.75 L969.05 470.5 L969.12 469.25 L969.2 468 L969.37 466.67 L969.53 465.33 L969.7 464 L969.87 462.67 L970.03 461.33 L970.2 460 L970.8 458.5 L971.4 457 L972.4 457.6 L972.55 458.95 L972.7 460.3 L972.85 461.65 L973 463 L973.16 464.2 L973.32 465.4 L973.48 466.6 L973.64 467.8 L973.8 469 L973.96 470.2 L974.12 471.4 L974.28 472.6 L974.44 473.8 L974.6 475 L974.8 476.4 L975 477.8 L975.2 479.2 L975.4 480.6 M978.6 476.6 L979.6 478 L979.85 479.4 L980.1 480.8 L980.35 482.2 L980.6 483.6 L981 485.07 L981.4 486.53 L981.8 488 L982.2 489.07 L982.6 490.13 L983 491.2 M993 493 L994 492.8 L994.05 491.52 L994.1 490.24 L994.15 488.96 L994.2 487.68 L994.25 486.4 L994.3 485.12 L994.35 483.84 L994.4 482.56 L994.45 481.28 L994.5 480 L994.54 478.73 L994.57 477.45 L994.61 476.18 L994.65 474.91 L994.68 473.64 L994.72 472.36 L994.75 471.09 L994.79 469.82 L994.83 468.55 L994.86 467.27 L994.9 466 L994.95 464.64 L995 463.28 L995.05 461.92 L995.1 460.56 L995.15 459.2 L995.2 457.84 L995.25 456.48 L995.3 455.12 L995.35 453.76 L995.4 452.4 L996.4 452.4 L996.5 453.67 L996.6 454.93 L996.7 456.2 L996.8 457.47 L996.9 458.73 L997 460 L997.14 461.28 L997.28 462.56 L997.42 463.84 L997.56 465.12 L997.7 466.4 L998.35 467.2 L999 468 L1000.6 468.8 L1000.76 470.04 L1000.92 471.28 L1001.08 472.52 L1001.24 473.76 L1001.4 475 L1001.56 476.2 L1001.72 477.4 L1001.88 478.6 L1002.04 479.8 L1002.2 481 L1002.5 482.25 L1002.8 483.5 L1003.1 484.75 L1003.4 486 L1003.83 487.13 L1004.27 488.27 L1004.7 489.4 L1005.55 490.5 M1012.8 493.6 L1013.13 492.4 L1013.47 491.2 L1013.8 490 L1013.84 488.67 L1013.89 487.33 L1013.93 486 L1013.98 484.67 L1014.02 483.33 L1014.07 482 L1014.11 480.67 L1014.16 479.33 L1014.2 478 L1014.25 476.73 L1014.29 475.45 L1014.34 474.18 L1014.38 472.91 L1014.43 471.64 L1014.47 470.36 L1014.52 469.09 L1014.56 467.82 L1014.61 466.55 L1014.65 465.27 L1014.7 464 L1014.76 462.65 L1014.83 461.3 L1014.89 459.95 L1014.95 458.6 L1015.01 457.25 L1015.08 455.9 L1015.14 454.55 L1015.2 453.2 L1016.2 453.2 L1016.3 454.5 L1016.4 455.8 L1016.5 457.1 L1016.6 458.4 L1016.7 459.7 L1016.8 461 L1016.92 462.27 L1017.03 463.53 L1017.15 464.8 L1017.27 466.07 L1017.38 467.33 L1017.5 468.6 L1017.65 469.83 L1017.8 471.07 L1017.95 472.3 L1018.1 473.53 L1018.25 474.77 L1018.4 476 L1018.6 477.32 L1018.8 478.64 L1019 479.96 L1019.2 481.28 L1019.4 482.6 L1019.8 484.07 L1020.2 485.53 L1020.6 487 L1021.13 488.07 L1021.67 489.13 L1022.2 490.2 M1044.6 493.4 L1045.7 493.6 L1045.75 492.24 L1045.8 490.88 L1045.85 489.52 L1045.9 488.16 L1045.95 486.8 L1046 485.44 L1046.05 484.08 L1046.1 482.72 L1046.15 481.36 L1046.2 480 L1046.24 478.73 L1046.27 477.45 L1046.31 476.18 L1046.35 474.91 L1046.38 473.64 L1046.42 472.36 L1046.45 471.09 L1046.49 469.82 L1046.53 468.55 L1046.56 467.27 L1046.6 466 L1046.64 464.69 L1046.67 463.38 L1046.71 462.07 L1046.75 460.76 L1046.78 459.45 L1046.82 458.15 L1046.85 456.84 L1046.89 455.53 L1046.93 454.22 L1046.96 452.91 L1047 451.6 L1048.2 451.6 L1048.32 452.88 L1048.44 454.16 L1048.56 455.44 L1048.68 456.72 L1048.8 458 L1048.96 459.2 L1049.12 460.4 L1049.28 461.6 L1049.44 462.8 L1049.6 464 L1049.73 465.33 L1049.87 466.67 L1050 468 L1050.13 469.33 L1050.27 470.67 L1050.4 472 L1050.56 473.23 L1050.71 474.46 L1050.87 475.69 L1051.03 476.91 L1051.19 478.14 L1051.34 479.37 L1051.5 480.6 L1051.87 481.87 L1052.23 483.13 L1052.6 484.4 L1053.2 485.2 L1053.8 486 M1095.44 492.16 L1096.8 492.2 L1096.86 490.84 L1096.91 489.49 L1096.97 488.13 L1097.02 486.78 L1097.08 485.42 L1097.13 484.07 L1097.19 482.71 L1097.24 481.36 L1097.3 480 L1097.32 478.71 L1097.34 477.43 L1097.36 476.14 L1097.39 474.86 L1097.41 473.57 L1097.43 472.29 L1097.45 471 L1097.47 469.71 L1097.49 468.43 L1097.51 467.14 L1097.54 465.86 L1097.56 464.57 L1097.58 463.29 L1097.6 462 L1097.62 460.67 L1097.65 459.33 L1097.67 458 L1097.7 456.67 L1097.72 455.33 L1097.75 454 L1097.78 452.67 L1097.8 451.33 L1097.83 450 L1097.85 448.67 L1097.88 447.33 L1097.9 446 L1097.97 444.77 L1098.03 443.53 L1098.1 442.3 L1098.17 441.07 L1098.23 439.83 L1098.3 438.6 L1099.4 438.6 L1099.55 439.95 L1099.7 441.3 L1099.85 442.65 L1100 444 L1100.2 445.2 L1100.4 446.4 L1100.6 447.6 L1100.8 448.8 L1101 450 L1101.1 451.33 L1101.2 452.67 L1101.3 454 L1101.4 455.33 L1101.5 456.67 L1101.6 458 L1101.8 459.4 L1102 460.8 L1102.2 462.2 L1102.4 463.6 L1102.65 462.2 L1102.9 460.8 L1103.15 459.4 L1103.4 458 L1103.9 456.5 L1104.4 455 L1104.6 456.25 L1104.8 457.5 L1105 458.75 L1105.2 460 L1105.33 461.33 L1105.47 462.67 L1105.6 464 L1105.73 465.33 L1105.87 466.67 L1106 468 L1106.16 469.4 L1106.32 470.8 L1106.48 472.2 L1106.64 473.6 L1106.8 475 L1107 476.2 L1107.2 477.4 L1107.4 478.6 L1107.6 479.8 L1107.8 481 L1108.13 482.47 L1108.47 483.93 L1108.8 485.4 L1109.6 486 L1110.4 486.6 L1111.9 486.8 L1111.99 485.54 L1112.07 484.29 L1112.16 483.03 L1112.24 481.77 L1112.33 480.51 L1112.41 479.26 L1112.5 478 L1112.52 476.71 L1112.54 475.43 L1112.56 474.14 L1112.59 472.86 L1112.61 471.57 L1112.63 470.29 L1112.65 469 L1112.67 467.71 L1112.69 466.43 L1112.71 465.14 L1112.74 463.86 L1112.76 462.57 L1112.78 461.29 L1112.8 460 L1112.83 458.64 L1112.85 457.27 L1112.88 455.91 L1112.91 454.55 L1112.94 453.18 L1112.96 451.82 L1112.99 450.45 L1113.02 449.09 L1113.05 447.73 L1113.07 446.36 L1113.1 445 L1113.18 443.6 L1113.26 442.2 L1113.34 440.8 L1113.42 439.4 L1113.5 438 L1114.6 438 L1114.87 439.33 L1115.13 440.67 L1115.4 442 L1115.67 443.33 L1115.93 444.67 L1116.2 446 L1116.3 447.29 L1116.4 448.57 L1116.5 449.86 L1116.6 451.14 L1116.7 452.43 L1116.8 453.71 L1116.9 455 L1117 456.29 L1117.1 457.57 L1117.2 458.86 L1117.3 460.14 L1117.4 461.43 L1117.5 462.71 L1117.6 464 L1117.72 465.23 L1117.83 466.47 L1117.95 467.7 L1118.07 468.93 L1118.18 470.17 L1118.3 471.4 L1119.05 470.2 M1121.2 467.2 L1121.45 468.4 L1121.7 469.6 L1121.95 470.8 L1122.2 472 L1122.38 473.2 L1122.56 474.4 L1122.74 475.6 L1122.92 476.8 L1123.1 478 L1123.65 479.5 L1124.2 481 L1124.95 482 M1141.85 488.7 L1143.2 489.2 L1143.27 487.96 L1143.33 486.71 L1143.4 485.47 L1143.47 484.22 L1143.53 482.98 L1143.6 481.73 L1143.67 480.49 L1143.73 479.24 L1143.8 478 L1143.82 476.71 L1143.84 475.43 L1143.86 474.14 L1143.89 472.86 L1143.91 471.57 L1143.93 470.29 L1143.95 469 L1143.97 467.71 L1143.99 466.43 L1144.01 465.14 L1144.04 463.86 L1144.06 462.57 L1144.08 461.29 L1144.1 460 L1144.13 458.71 L1144.16 457.43 L1144.19 456.14 L1144.21 454.86 L1144.24 453.57 L1144.27 452.29 L1144.3 451 L1144.33 449.71 L1144.36 448.43 L1144.39 447.14 L1144.41 445.86 L1144.44 444.57 L1144.47 443.29 L1144.5 442 L1144.56 440.74 L1144.61 439.49 L1144.67 438.23 L1144.73 436.97 L1144.79 435.71 L1144.84 434.46 L1144.9 433.2 L1146 433.2 L1146.15 434.4 L1146.3 435.6 L1146.45 436.8 L1146.6 438 L1146.8 439.13 L1147 440.27 L1147.2 441.4 L1148.4 441 L1149.6 441.6 L1149.76 442.88 L1149.92 444.16 L1150.08 445.44 L1150.24 446.72 L1150.4 448 L1150.56 449.4 L1150.72 450.8 L1150.88 452.2 L1151.04 453.6 L1151.2 455 L1151.35 456.3 L1151.5 457.6 L1151.65 458.9 L1151.8 460.2 L1151.95 461.5 L1152.1 462.8 L1152.26 464.11 L1152.41 465.43 L1152.57 466.74 L1152.73 468.06 L1152.89 469.37 L1153.04 470.69 L1153.2 472 L1153.4 473.23 L1153.6 474.47 L1153.8 475.7 L1154 476.93 L1154.2 478.17 L1154.4 479.4 L1155.1 480.1 L1155.8 480.8 M1170.8 490 L1171.2 488.67 L1171.6 487.33 L1172 486 L1172.29 484.8 L1172.57 483.6 L1172.86 482.4 L1173.14 481.2 L1173.43 480 L1173.71 478.8 L1174 477.6 L1174.29 476.41 L1174.57 475.23 L1174.86 474.04 L1175.14 472.86 L1175.43 471.67 L1175.71 470.49 L1176 469.3 L1176.24 468.04 L1176.47 466.77 L1176.71 465.51 L1176.95 464.25 L1177.18 462.98 L1177.42 461.72 L1177.65 460.45 L1177.89 459.19 L1178.13 457.93 L1178.36 456.66 L1178.6 455.4 L1178.84 454.15 L1179.07 452.89 L1179.31 451.64 L1179.55 450.38 L1179.78 449.13 L1180.02 447.87 L1180.25 446.62 L1180.49 445.36 L1180.73 444.11 L1180.96 442.85 L1181.2 441.6 L1181.44 440.31 L1181.69 439.02 L1181.93 437.73 L1182.18 436.44 L1182.42 435.16 L1182.67 433.87 L1182.91 432.58 L1183.16 431.29 L1183.4 430 L1183.63 428.78 L1183.87 427.56 L1184.1 426.33 L1184.33 425.11 L1184.57 423.89 L1184.8 422.67 L1185.03 421.44 L1185.27 420.22 L1185.5 419 L1185.71 417.71 L1185.93 416.43 L1186.14 415.14 L1186.36 413.86 L1186.57 412.57 L1186.79 411.29 L1187 410 L1187.11 408.71 L1187.23 407.43 L1187.34 406.14 L1187.46 404.86 L1187.57 403.57 L1187.69 402.29 L1187.8 401 L1187.91 399.71 L1188.03 398.43 L1188.14 397.14 L1188.26 395.86 L1188.37 394.57 L1188.49 393.29 L1188.6 392 L1188.75 390.73 L1188.89 389.45 L1189.04 388.18 L1189.18 386.91 L1189.33 385.64 L1189.47 384.36 L1189.62 383.09 L1189.76 381.82 L1189.91 380.55 L1190.05 379.27 L1190.2 378 L1190.36 376.66 L1190.51 375.31 L1190.67 373.97 L1190.82 372.62 L1190.98 371.28 L1191.13 369.93 L1191.29 368.59 L1191.44 367.24 L1191.6 365.9 L1191.72 364.57 L1191.83 363.25 L1191.95 361.92 L1192.07 360.6 L1192.18 359.27 L1192.3 357.95 L1192.42 356.62 L1192.53 355.3 L1192.65 353.98 L1192.77 352.65 L1192.88 351.32 L1193 350 L1193.12 348.73 L1193.23 347.45 L1193.35 346.18 L1193.47 344.9 L1193.58 343.62 L1193.7 342.35 L1193.82 341.07 L1193.93 339.8 L1194.05 338.52 L1194.17 337.25 L1194.28 335.97 L1194.4 334.7 L1194.55 333.1 L1194.7 331.5 L1194.83 330.25 L1194.97 329 L1195.1 327.75 L1195.23 326.5 L1195.37 325.25 L1195.5 324 L1195.7 322.62 L1195.9 321.25 L1196.1 319.88 L1196.3 318.5 L1196.45 317.1 L1196.6 315.7 L1197.9 315.7 L1198.1 317.13 L1198.3 318.57 L1198.5 320 L1198.67 321.33 L1198.83 322.67 L1199 324 L1199.02 325.25 L1199.03 326.5 L1199.05 327.75 L1199.07 329 L1199.08 330.25 L1199.1 331.5 L1199.25 333.1 L1199.4 334.7 L1199.44 335.97 L1199.48 337.25 L1199.53 338.52 L1199.57 339.8 L1199.61 341.07 L1199.65 342.35 L1199.69 343.62 L1199.73 344.9 L1199.78 346.18 L1199.82 347.45 L1199.86 348.73 L1199.9 350 L1199.93 351.29 L1199.95 352.57 L1199.98 353.86 L1200.01 355.15 L1200.03 356.43 L1200.06 357.72 L1200.09 359.01 L1200.11 360.29 L1200.14 361.58 L1200.17 362.87 L1200.19 364.15 L1200.22 365.44 L1200.25 366.73 L1200.27 368.01 L1200.3 369.3 L1200.34 370.59 L1200.38 371.89 L1200.41 373.18 L1200.45 374.48 L1200.49 375.77 L1200.53 377.06 L1200.56 378.36 L1200.6 379.65 L1200.64 380.94 L1200.67 382.24 L1200.71 383.53 L1200.75 384.82 L1200.79 386.12 L1200.83 387.41 L1200.86 388.71 L1200.9 390 L1200.94 391.28 L1200.98 392.56 L1201.02 393.84 L1201.06 395.12 L1201.1 396.4 L1201.14 397.68 L1201.18 398.96 L1201.22 400.24 L1201.26 401.52 L1201.3 402.8 L1201.34 404.08 L1201.38 405.36 L1201.42 406.64 L1201.46 407.92 L1201.5 409.2 L1201.53 410.49 L1201.56 411.79 L1201.59 413.08 L1201.62 414.38 L1201.65 415.67 L1201.68 416.96 L1201.71 418.26 L1201.74 419.55 L1201.76 420.85 L1201.79 422.14 L1201.82 423.44 L1201.85 424.73 L1201.88 426.02 L1201.91 427.32 L1201.94 428.61 L1201.97 429.91 L1202 431.2 L1202.06 432.54 L1202.11 433.89 L1202.17 435.23 L1202.23 436.57 L1202.29 437.91 L1202.34 439.26 L1202.4 440.6 L1202.46 441.94 L1202.51 443.29 L1202.57 444.63 L1202.63 445.97 L1202.69 447.31 L1202.74 448.66 L1202.8 450 L1202.85 451.33 L1202.9 452.67 L1202.95 454 L1203 455.33 L1203.05 456.67 L1203.1 458 L1203.15 459.33 L1203.2 460.67 L1203.25 462 L1203.3 463.33 L1203.35 464.67 L1203.4 466 L1203.45 467.27 L1203.51 468.55 L1203.56 469.82 L1203.62 471.09 L1203.67 472.36 L1203.73 473.64 L1203.78 474.91 L1203.84 476.18 L1203.89 477.45 L1203.95 478.73 L1204 480 L1204.05 481.36 L1204.11 482.73 L1204.16 484.09 L1204.22 485.45 L1204.27 486.82 L1204.33 488.18 L1204.38 489.55 L1204.44 490.91 L1204.49 492.27 L1204.55 493.64 L1204.6 495 L1204.67 496.25 L1204.75 497.5 L1204.83 498.75 L1204.9 500 L1204.97 501.25 L1205.05 502.5 L1205.12 503.75 L1205.2 505 L1205.3 506.23 L1205.4 507.47 L1205.5 508.7 L1205.6 509.93 L1205.7 511.17 L1205.8 512.4 L1206.4 511.6 L1207 510.8 L1207.56 509.64 L1208.12 508.48 L1208.68 507.32 L1209.24 506.16 L1209.8 505 L1210.36 503.72 L1210.92 502.44 L1211.48 501.16 L1212.04 499.88 L1212.6 498.6 L1212.66 497.37 L1212.71 496.14 L1212.77 494.91 L1212.83 493.69 L1212.89 492.46 L1212.94 491.23 L1213 490 L1213.05 488.67 L1213.1 487.33 L1213.15 486 L1213.2 484.67 L1213.25 483.33 L1213.3 482 L1213.35 480.67 L1213.4 479.33 L1213.45 478 L1213.5 476.67 L1213.55 475.33 L1213.6 474 L1213.69 472.67 L1213.78 471.33 L1213.87 470 L1213.96 468.67 L1214.04 467.33 L1214.13 466 L1214.22 464.67 L1214.31 463.33 L1214.4 462 L1214.58 460.67 L1214.77 459.33 L1214.95 458 L1215.13 456.67 L1215.32 455.33 L1215.5 454 L1215.72 452.67 L1215.93 451.33 L1216.15 450 L1216.37 448.67 L1216.58 447.33 L1216.8 446 L1217.03 444.67 L1217.27 443.33 L1217.5 442 L1217.73 440.67 L1217.97 439.33 L1218.2 438 L1218.5 436.6 L1218.8 435.2 L1219.1 433.8 L1219.4 432.4 L1220 433.4 L1220.6 434.4 L1220.92 435.77 L1221.25 437.15 L1221.58 438.52 L1221.9 439.9 L1222.12 441.25 L1222.33 442.6 L1222.55 443.95 L1222.77 445.3 L1222.98 446.65 L1223.2 448 L1223.42 449.33 L1223.63 450.67 L1223.85 452 L1224.07 453.33 L1224.28 454.67 L1224.5 456 L1224.8 457.33 L1225.1 458.67 L1225.4 460 L1226.8 461 M1234.6 456.2 L1235.12 454.9 L1235.65 453.6 L1236.17 452.3 L1236.7 451 L1237.55 449.8 M1239.25 447.6 L1240.1 446.6 L1240.47 445.4 L1240.83 444.2 L1241.2 443 L1241.32 441.8 L1241.44 440.6 L1241.56 439.4 L1241.68 438.2 L1241.8 437 L1242.6 435.6 M1249.3 440 L1249.95 439 L1250.6 438 L1250.77 436.67 L1250.93 435.33 L1251.1 434 L1251.27 432.67 L1251.43 431.33 L1251.6 430 L1251.69 428.67 L1251.78 427.33 L1251.87 426 L1251.96 424.67 L1252.04 423.33 L1252.13 422 L1252.22 420.67 L1252.31 419.33 L1252.4 418 L1252.44 416.71 L1252.49 415.43 L1252.53 414.14 L1252.57 412.86 L1252.61 411.57 L1252.66 410.29 L1252.7 409 L1252.74 407.71 L1252.79 406.43 L1252.83 405.14 L1252.87 403.86 L1252.91 402.57 L1252.96 401.29 L1253 400 L1253.03 398.67 L1253.07 397.33 L1253.1 396 L1253.13 394.67 L1253.17 393.33 L1253.2 392 L1253.23 390.67 L1253.27 389.33 L1253.3 388 L1253.33 386.67 L1253.37 385.33 L1253.4 384 L1253.43 382.67 L1253.47 381.33 L1253.5 380 L1253.51 378.7 L1253.53 377.39 L1253.54 376.09 L1253.55 374.78 L1253.57 373.48 L1253.58 372.17 L1253.59 370.87 L1253.6 369.57 L1253.62 368.26 L1253.63 366.96 L1253.64 365.65 L1253.66 364.35 L1253.67 363.04 L1253.68 361.74 L1253.7 360.43 L1253.71 359.13 L1253.72 357.83 L1253.73 356.52 L1253.75 355.22 L1253.76 353.91 L1253.77 352.61 L1253.79 351.3 L1253.8 350 L1253.8 348.7 L1253.81 347.39 L1253.81 346.09 L1253.82 344.78 L1253.82 343.48 L1253.83 342.17 L1253.83 340.87 L1253.83 339.57 L1253.84 338.26 L1253.84 336.96 L1253.85 335.65 L1253.85 334.35 L1253.86 333.04 L1253.86 331.74 L1253.87 330.43 L1253.87 329.13 L1253.87 327.83 L1253.88 326.52 L1253.88 325.22 L1253.89 323.91 L1253.89 322.61 L1253.9 321.3 L1253.9 320 L1253.91 318.67 L1253.93 317.33 L1253.94 316 L1253.95 314.67 L1253.97 313.33 L1253.98 312 L1253.99 310.67 L1254.01 309.33 L1254.02 308 L1254.03 306.67 L1254.05 305.33 L1254.06 304 L1254.07 302.67 L1254.09 301.33 L1254.1 300 L1254.13 298.7 L1254.16 297.4 L1254.19 296.1 L1254.21 294.8 L1254.24 293.5 L1254.27 292.2 L1254.3 290.9 L1254.9 290.9 L1254.97 292.2 L1255.04 293.5 L1255.11 294.8 L1255.19 296.1 L1255.26 297.4 L1255.33 298.7 L1255.4 300 L1255.5 301.33 L1255.6 302.67 L1255.7 304 L1255.8 305.33 L1255.9 306.67 L1256 308 L1256.1 309.33 L1256.2 310.67 L1256.3 312 L1256.4 313.33 L1256.5 314.67 L1256.6 316 L1256.7 317.33 L1256.8 318.67 L1256.9 320 L1257 321.33 L1257.1 322.67 L1257.2 324 L1257.32 325.33 L1257.44 326.67 L1257.57 328 L1257.69 329.33 L1257.81 330.67 L1257.93 332 L1258.06 333.33 L1258.18 334.67 L1258.3 336 L1258.44 337.33 L1258.59 338.67 L1258.73 340 L1258.88 341.33 L1259.02 342.67 L1259.17 344 L1259.31 345.33 L1259.46 346.67 L1259.6 348 L1259.71 349.33 L1259.82 350.67 L1259.93 352 L1260.04 353.33 L1260.16 354.67 L1260.27 356 L1260.38 357.33 L1260.49 358.67 L1260.6 360 L1260.69 361.33 L1260.78 362.67 L1260.87 364 L1260.96 365.33 L1261.04 366.67 L1261.13 368 L1261.22 369.33 L1261.31 370.67 L1261.4 372 L1261.46 373.3 L1261.52 374.6 L1261.58 375.9 L1261.64 377.2 L1261.7 378.5 L1261.76 379.8 L1261.82 381.1 L1261.88 382.4 L1261.94 383.7 L1262 385 L1262.12 386.28 L1262.24 387.56 L1262.36 388.84 L1262.48 390.12 L1262.6 391.4 L1262.72 392.68 L1262.84 393.96 L1262.96 395.24 L1263.08 396.52 L1263.2 397.8 L1263.44 399.12 L1263.68 400.44 L1263.92 401.76 L1264.16 403.08 L1264.4 404.4 L1264.66 405.6 L1264.92 406.8 L1265.18 408 L1265.44 409.2 L1265.7 410.4 L1266.03 411.7 L1266.35 413 L1266.67 414.3 L1267 415.6 L1267.5 416.5 L1268 417.4 M1283.9 416.33 L1284.6 415.4 L1285.4 414 L1286.2 412.6 L1286.3 411.45 L1286.4 410.3 L1286.5 409.15 L1286.6 408 L1287.4 406.8 M1296.15 408.1 L1297.6 407.6 L1297.69 406.23 L1297.77 404.86 L1297.86 403.49 L1297.94 402.11 L1298.03 400.74 L1298.11 399.37 L1298.2 398 L1298.28 396.7 L1298.36 395.4 L1298.44 394.1 L1298.52 392.8 L1298.6 391.5 L1299.15 390.65 L1299.7 389.8 L1300.2 391 L1300.7 392.2 L1301.2 393.4 L1301.77 394.43 L1302.33 395.47 M1306 399.3 L1306.6 397.9 L1307.2 396.5 L1307.27 395.24 L1307.33 393.99 L1307.4 392.73 L1307.47 391.48 L1307.53 390.22 L1307.6 388.97 L1307.67 387.71 L1307.73 386.46 L1307.8 385.2 L1307.82 383.87 L1307.84 382.55 L1307.86 381.22 L1307.88 379.89 L1307.91 378.57 L1307.93 377.24 L1307.95 375.92 L1307.97 374.59 L1307.99 373.26 L1308.01 371.94 L1308.03 370.61 L1308.05 369.28 L1308.07 367.96 L1308.09 366.63 L1308.12 365.31 L1308.14 363.98 L1308.16 362.65 L1308.18 361.33 L1308.2 360 L1308.2 358.67 L1308.2 357.33 L1308.2 356 L1308.2 354.67 L1308.2 353.33 L1308.2 352 L1308.2 350.67 L1308.2 349.33 L1308.2 348 L1308.2 346.67 L1308.2 345.33 L1308.2 344 L1308.2 342.67 L1308.2 341.33 L1308.2 340 L1308.21 338.66 L1308.22 337.32 L1308.23 335.97 L1308.24 334.63 L1308.25 333.29 L1308.26 331.95 L1308.27 330.61 L1308.28 329.26 L1308.29 327.92 L1308.31 326.58 L1308.32 325.24 L1308.33 323.89 L1308.34 322.55 L1308.35 321.21 L1308.36 319.87 L1308.37 318.53 L1308.38 317.18 L1308.39 315.84 L1308.4 314.5 L1309.4 313.5 L1309.4 312.2 L1309.4 310.89 L1309.4 309.59 L1309.4 308.28 L1309.4 306.98 L1309.4 305.67 L1309.4 304.37 L1309.4 303.06 L1309.4 301.76 L1309.4 300.45 L1309.4 299.15 L1309.4 297.84 L1309.4 296.54 L1309.4 295.23 L1309.4 293.93 L1309.4 292.62 L1309.4 291.32 L1309.4 290.01 L1309.4 288.71 L1309.4 287.4 L1309.4 286.1 L1309.4 284.79 L1309.4 283.49 L1309.4 282.18 L1309.4 280.88 L1309.4 279.57 L1309.4 278.27 L1309.4 276.96 L1309.4 275.66 L1309.4 274.35 L1309.4 273.05 L1309.4 271.74 L1309.4 270.44 L1309.4 269.13 L1309.4 267.83 L1309.4 266.52 L1309.4 265.22 L1309.4 263.91 L1309.4 262.61 L1309.4 261.3 L1309.4 260 L1309.32 258.67 L1309.23 257.33 L1309.15 256 L1309.07 254.67 L1308.98 253.33 L1308.9 252 L1309.8 250.5 L1309.8 249.18 L1309.8 247.86 L1309.8 246.54 L1309.8 245.22 L1309.8 243.91 L1309.8 242.59 L1309.8 241.27 L1309.8 239.95 L1309.8 238.63 L1309.8 237.31 L1309.8 235.99 L1309.8 234.68 L1309.8 233.36 L1309.8 232.04 L1309.8 230.72 L1309.8 229.4 L1310.5 227.8 L1310.5 226.47 L1310.5 225.15 L1310.5 223.82 L1310.5 222.49 L1310.5 221.17 L1310.5 219.84 L1310.5 218.52 L1310.5 217.19 L1310.5 215.86 L1310.5 214.54 L1310.5 213.21 L1310.5 211.88 L1310.5 210.56 L1310.5 209.23 L1310.5 207.91 L1310.5 206.58 L1310.5 205.25 L1310.5 203.93 L1310.5 202.6 L1311.5 201.3 L1311.5 200.01 L1311.5 198.71 L1311.5 197.42 L1311.5 196.12 L1311.5 194.83 L1311.5 193.54 L1311.5 192.24 L1311.5 190.95 L1311.5 189.65 L1311.5 188.36 L1311.5 187.07 L1311.5 185.77 L1311.5 184.48 L1311.5 183.18 L1311.5 181.89 L1311.5 180.6 L1311.5 179.3 L1311.5 178.01 L1311.5 176.72 L1311.5 175.42 L1311.5 174.13 L1311.5 172.83 L1311.5 171.54 L1311.5 170.25 L1311.5 168.95 L1311.5 167.66 L1311.5 166.36 L1311.5 165.07 L1311.5 163.78 L1311.5 162.48 L1311.5 161.19 L1311.5 159.89 L1311.5 158.6 L1312.4 157.4 L1312.41 156.09 L1312.41 154.78 L1312.42 153.47 L1312.43 152.16 L1312.43 150.85 L1312.44 149.54 L1312.44 148.23 L1312.45 146.93 L1312.46 145.62 L1312.46 144.31 L1312.47 143 L1312.47 141.69 L1312.48 140.38 L1312.49 139.07 L1312.49 137.76 L1312.5 136.45 L1312.51 135.14 L1312.51 133.83 L1312.52 132.52 L1312.53 131.21 L1312.53 129.9 L1312.54 128.59 L1312.54 127.28 L1312.55 125.97 L1312.56 124.67 L1312.56 123.36 L1312.57 122.05 L1312.57 120.74 L1312.58 119.43 L1312.59 118.12 L1312.59 116.81 L1312.6 115.5 L1312.62 114.2 L1312.63 112.9 L1312.65 111.6 L1312.66 110.3 L1312.68 109 L1312.7 107.7 L1312.71 106.4 L1312.73 105.1 L1312.74 103.8 L1312.76 102.5 L1312.78 101.2 L1312.79 99.9 L1312.81 98.6 L1312.82 97.3 L1312.84 96 L1312.86 94.7 L1312.87 93.4 L1312.89 92.1 L1312.9 90.8 L1312.92 89.5 L1312.94 88.2 L1312.95 86.9 L1312.97 85.6 L1312.98 84.3 L1313 83 L1313.53 82 L1314.07 81 L1314.6 80 L1314.63 78.71 L1314.66 77.43 L1314.69 76.14 L1314.71 74.86 L1314.74 73.57 L1314.77 72.29 L1314.8 71 L1314.83 69.71 L1314.86 68.43 L1314.89 67.14 L1314.91 65.86 L1314.94 64.57 L1314.97 63.29 L1315 62 L1315.3 60.7 L1315.6 59.4 L1316.6 59.4 L1317.6 59.4 L1317.72 60.72 L1317.84 62.04 L1317.96 63.36 L1318.08 64.68 L1318.2 66 L1318.29 67.31 L1318.37 68.63 L1318.46 69.94 L1318.54 71.26 L1318.63 72.57 L1318.71 73.89 L1318.8 75.2 L1318.9 76.46 L1319 77.72 L1319.1 78.98 L1319.2 80.24 L1319.3 81.5 L1319.4 82.76 L1319.5 84.02 L1319.6 85.28 L1319.7 86.54 L1319.8 87.8 L1319.86 89.11 L1319.91 90.43 L1319.97 91.74 L1320.03 93.06 L1320.09 94.37 L1320.14 95.69 L1320.2 97 L1320.3 98.39 L1320.4 99.77 L1320.5 101.16 L1320.6 102.54 L1320.7 103.93 L1320.8 105.31 L1320.9 106.7 L1321.1 107.96 L1321.3 109.21 L1321.5 110.47 L1321.7 111.73 L1321.9 112.99 L1322.1 114.24 L1322.3 115.5 L1322.34 116.81 L1322.38 118.12 L1322.41 119.44 L1322.45 120.75 L1322.49 122.06 L1322.52 123.38 L1322.56 124.69 L1322.6 126 L1323.4 127.6 L1323.4 128.91 L1323.4 130.22 L1323.4 131.52 L1323.4 132.83 L1323.4 134.14 L1323.4 135.45 L1323.4 136.76 L1323.4 138.06 L1323.4 139.37 L1323.4 140.68 L1323.4 141.99 L1323.4 143.3 L1323.4 144.6 L1323.4 145.91 L1323.4 147.22 L1323.4 148.53 L1323.4 149.84 L1323.4 151.14 L1323.4 152.45 L1323.4 153.76 L1323.4 155.07 L1323.4 156.38 L1323.4 157.68 L1323.4 158.99 L1323.4 160.3 L1324.2 160.95 L1325 161.6 L1325 162.86 L1325 164.12 L1325 165.38 L1325 166.64 L1325 167.9 L1325 169.16 L1325 170.42 L1325 171.68 L1325 172.94 L1325 174.2 L1325.65 175.45 L1326.3 176.7 L1326.3 178.05 L1326.3 179.41 L1326.3 180.76 L1326.3 182.11 L1326.3 183.47 L1326.3 184.82 L1326.3 186.17 L1326.3 187.53 L1326.3 188.88 L1326.3 190.23 L1326.3 191.59 L1326.3 192.94 L1326.3 194.29 L1326.3 195.65 L1326.3 197 L1326.43 198.24 L1326.56 199.49 L1326.69 200.73 L1326.81 201.97 L1326.94 203.21 L1327.07 204.46 L1327.2 205.7 L1328.45 206.35 L1329.7 207 L1329.73 208.32 L1329.76 209.64 L1329.79 210.96 L1329.82 212.28 L1329.85 213.6 L1329.88 214.92 L1329.91 216.24 L1329.94 217.56 L1329.97 218.88 L1330 220.2 L1331.1 220.85 L1332.2 221.5 L1332.34 222.76 L1332.49 224.01 L1332.63 225.27 L1332.77 226.53 L1332.91 227.79 L1333.06 229.04 L1333.2 230.3 L1333.2 231.62 L1333.2 232.94 L1333.2 234.26 L1333.2 235.58 L1333.2 236.9 L1333.2 238.21 L1333.2 239.53 L1333.2 240.85 L1333.2 242.17 L1333.2 243.49 L1333.2 244.81 L1333.2 246.13 L1333.2 247.45 L1333.2 248.77 L1333.2 250.09 L1333.2 251.4 L1333.2 252.72 L1333.2 254.04 L1333.2 255.36 L1333.2 256.68 L1333.2 258 L1333.44 259.4 L1333.68 260.8 L1333.92 262.2 L1334.16 263.6 L1334.4 265 L1334.7 266.17 L1335 267.33 L1335.3 268.5 L1335.3 269.82 L1335.3 271.13 L1335.3 272.45 L1335.3 273.77 L1335.3 275.08 L1335.3 276.4 L1335.6 277.66 L1335.9 278.92 L1336.2 280.18 L1336.5 281.44 L1336.8 282.7 L1336.8 283.95 L1336.8 285.21 L1336.8 286.46 L1336.8 287.72 L1336.8 288.97 L1336.8 290.23 L1336.8 291.48 L1336.8 292.74 L1336.8 293.99 L1336.8 295.25 L1336.8 296.5 L1337.2 297.53 L1337.6 298.57 L1338 299.6 L1338.13 300.83 L1338.27 302.07 L1338.4 303.3 L1338.53 304.53 L1338.67 305.77 L1338.8 307 L1338.91 308.21 L1339.03 309.43 L1339.14 310.64 L1339.26 311.86 L1339.37 313.07 L1339.49 314.29 L1339.6 315.5 L1339.92 316.75 L1340.25 318 L1340.58 319.25 L1340.9 320.5 L1342.2 320.8 L1343.5 321.1 L1343.67 322.44 L1343.84 323.79 L1344.01 325.13 L1344.19 326.47 L1344.36 327.81 L1344.53 329.16 L1344.7 330.5 L1344.83 331.75 L1344.97 333 L1345.1 334.25 L1345.23 335.5 L1345.37 336.75 L1345.5 338 L1345.72 339.34 L1345.94 340.68 L1346.16 342.02 L1346.38 343.36 L1346.6 344.7 L1346.82 346.04 L1347.04 347.38 L1347.26 348.72 L1347.48 350.06 L1347.7 351.4 L1347.78 352.66 L1347.85 353.92 L1347.93 355.18 L1348.01 356.45 L1348.08 357.71 L1348.16 358.97 L1348.24 360.23 L1348.32 361.49 L1348.39 362.75 L1348.47 364.02 L1348.55 365.28 L1348.62 366.54 L1348.7 367.8 L1349.01 369.06 L1349.33 370.31 L1349.64 371.57 L1349.96 372.83 L1350.27 374.09 L1350.59 375.34 L1350.9 376.6 L1351.12 378 L1351.33 379.4 L1351.55 380.8 L1351.77 382.2 L1351.98 383.6 L1352.2 385 L1352.4 386.33 L1352.6 387.67 L1352.8 389 L1353 390.33 L1353.2 391.67 L1353.4 393 L1353.8 394.1 L1354.2 395.2 L1354.6 396.3 L1355 397.4 L1355.5 398.43 L1356 399.47 L1356.5 400.5 L1357 401.67 L1357.5 402.83 L1358 404 M1369.6 400.4 L1370.3 399.2 L1371 398 L1371.43 396.87 L1371.87 395.73 L1372.3 394.6 L1372.9 393.5 L1373.5 392.4 M1376.9 392.4 L1377.2 393.47 L1377.5 394.53 L1377.8 395.6 L1377.88 396.92 L1377.97 398.23 L1378.05 399.55 L1378.13 400.87 L1378.22 402.18 L1378.3 403.5 L1378.34 404.8 L1378.39 406.1 L1378.43 407.4 L1378.48 408.7 L1378.52 410 L1378.57 411.3 L1378.61 412.6 L1378.66 413.9 L1378.7 415.2 L1378.75 416.48 L1378.8 417.76 L1378.85 419.04 L1378.9 420.32 L1378.95 421.6 L1379 422.88 L1379.05 424.16 L1379.1 425.44 L1379.15 426.72 L1379.2 428 L1379.24 429.38 L1379.29 430.76 L1379.33 432.13 L1379.38 433.51 L1379.42 434.89 L1379.47 436.27 L1379.51 437.64 L1379.56 439.02 L1379.6 440.4 L1379.7 441.77 L1379.8 443.14 L1379.9 444.51 L1380 445.89 L1380.1 447.26 L1380.2 448.63 L1380.3 450 L1380.39 451.33 L1380.47 452.66 L1380.56 453.99 L1380.64 455.31 L1380.73 456.64 L1380.81 457.97 L1380.9 459.3 L1380.96 460.64 L1381.03 461.98 L1381.09 463.31 L1381.15 464.65 L1381.21 465.99 L1381.28 467.32 L1381.34 468.66 L1381.4 470 L1381.46 471.26 L1381.52 472.52 L1381.58 473.78 L1381.64 475.04 L1381.7 476.3 L1381.76 477.56 L1381.82 478.82 L1381.88 480.08 L1381.94 481.34 L1382 482.6 L1382.25 483.95 L1382.5 485.3 L1382.75 486.65 L1383 488 L1383.22 489.18 L1383.45 490.35 L1383.68 491.52 L1383.9 492.7 L1384.6 494.4 L1385.1 495.7 L1385.6 497 L1386.07 498 L1386.53 499 L1387 500 L1387.47 501.17 L1387.93 502.33 L1388.4 503.5 L1389 504.95 L1389.6 506.4 L1389.92 507.7 L1390.25 509 L1390.58 510.3 L1390.9 511.6 L1391.43 512.9 L1391.95 514.2 L1392.47 515.5 L1393 516.8 L1393.58 518 L1394.15 519.2 L1394.72 520.4 L1395.3 521.6 L1395.92 522.9 L1396.55 524.2 L1397.17 525.5 L1397.8 526.8 L1398.42 528.02 L1399.05 529.25" fill="none" stroke="#0000ff" stroke-width="3.2" stroke-linejoin="miter" stroke-miterlimit="1.6" stroke-linecap="butt"/>
<line x1="178.8" y1="550.95" x2="238.6" y2="550.95" stroke="#0000ff" stroke-width="3.4"/>
<line x1="1338.7" y1="299.3" x2="1338.9" y2="314.2" stroke="#0000ff" stroke-width="4.5"/>
<line x1="1386.3" y1="494.8" x2="1388" y2="505.2" stroke="#0000ff" stroke-width="5.6"/>
<path d="M161.5 537.6 L167.3 537.6 L167.3 532.4 L176.9 540.8 L167.3 549.4 L167.3 543.6 L161.5 543.6 Z" fill="#0000ff" stroke="#111" stroke-width="1" stroke-linejoin="miter"/>
</svg>
</body></html>
